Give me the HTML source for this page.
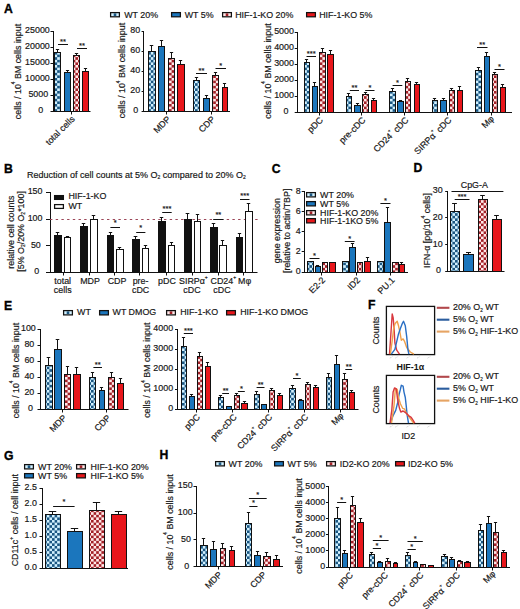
<!DOCTYPE html><html><head><meta charset="utf-8"><style>html,body{margin:0;padding:0;background:#fff;}svg{display:block;font-family:"Liberation Sans",sans-serif;}</style></head><body>
<svg width="520" height="609" viewBox="0 0 520 609">
<defs>
<pattern id="cb" width="5.2" height="5.2" patternUnits="userSpaceOnUse"><rect width="5.2" height="5.2" fill="#1a5682"/><rect width="2.6" height="2.6" fill="#d2f1ff"/><rect x="2.6" y="2.6" width="2.6" height="2.6" fill="#d2f1ff"/></pattern>
<pattern id="cr" width="5.2" height="5.2" patternUnits="userSpaceOnUse"><rect width="5.2" height="5.2" fill="#a32027"/><rect width="2.6" height="2.6" fill="#ffe9e9"/><rect x="2.6" y="2.6" width="2.6" height="2.6" fill="#ffe9e9"/></pattern>
</defs>
<text transform="translate(3.9 12.5) scale(0.94 1)" font-size="13" font-weight="bold" fill="#000" stroke="#000" stroke-width="0.35">A</text>
<rect x="110.6" y="12.6" width="8.8" height="4.2" fill="#d2f1ff"/>
<rect x="113.7" y="13.4" width="2.6" height="2.6" fill="#1a5682"/>
<rect x="110.6" y="12.6" width="8.8" height="4.2" fill="none" stroke="#111" stroke-width="1.25"/>
<text x="124.2" y="17.6" font-size="8.9" text-anchor="start" fill="#161616" stroke="#161616" stroke-width="0.18">WT 20%</text>
<rect x="171.6" y="12.6" width="8.8" height="4.2" fill="#1b76bd" stroke="#111" stroke-width="1.25"/>
<text x="184.7" y="17.6" font-size="8.9" text-anchor="start" fill="#161616" stroke="#161616" stroke-width="0.18">WT 5%</text>
<rect x="222.6" y="12.6" width="8.8" height="4.2" fill="#ffe9e9"/>
<rect x="225.7" y="13.4" width="2.6" height="2.6" fill="#a32027"/>
<rect x="222.6" y="12.6" width="8.8" height="4.2" fill="none" stroke="#111" stroke-width="1.25"/>
<text x="235.2" y="17.6" font-size="8.9" text-anchor="start" fill="#161616" stroke="#161616" stroke-width="0.18">HIF-1-KO 20%</text>
<rect x="306.6" y="12.6" width="8.8" height="4.2" fill="#e8161b" stroke="#111" stroke-width="1.25"/>
<text x="319.2" y="17.6" font-size="8.9" text-anchor="start" fill="#161616" stroke="#161616" stroke-width="0.18">HIF-1-KO 5%</text>
<line x1="53.5" y1="31" x2="53.5" y2="112" stroke="#111" stroke-width="1.0"/>
<line x1="50.5" y1="31.5" x2="53" y2="31.5" stroke="#111" stroke-width="1.0"/>
<text x="49.8" y="33.4" font-size="8.9" text-anchor="end" fill="#161616" stroke="#161616" stroke-width="0.18">25000</text>
<line x1="50.5" y1="47.5" x2="53" y2="47.5" stroke="#111" stroke-width="1.0"/>
<text x="49.8" y="49.4" font-size="8.9" text-anchor="end" fill="#161616" stroke="#161616" stroke-width="0.18">20000</text>
<line x1="50.5" y1="63.5" x2="53" y2="63.5" stroke="#111" stroke-width="1.0"/>
<text x="49.8" y="65.4" font-size="8.9" text-anchor="end" fill="#161616" stroke="#161616" stroke-width="0.18">15000</text>
<line x1="50.5" y1="79.5" x2="53" y2="79.5" stroke="#111" stroke-width="1.0"/>
<text x="49.8" y="81.4" font-size="8.9" text-anchor="end" fill="#161616" stroke="#161616" stroke-width="0.18">10000</text>
<line x1="50.5" y1="95.5" x2="53" y2="95.5" stroke="#111" stroke-width="1.0"/>
<text x="48.17" y="97.4" font-size="8.9" text-anchor="end" fill="#161616" stroke="#161616" stroke-width="0.18">5000</text>
<line x1="50.5" y1="111.5" x2="53" y2="111.5" stroke="#111" stroke-width="1.0"/>
<text x="43.27" y="113.4" font-size="8.9" text-anchor="end" fill="#161616" stroke="#161616" stroke-width="0.18">0</text>
<line x1="57.5" y1="52" x2="57.5" y2="49" stroke="#111" stroke-width="1.0"/>
<line x1="55.855" y1="49.5" x2="59.145" y2="49.5" stroke="#111" stroke-width="1.0"/>
<rect x="54.5" y="52.5" width="6" height="59" fill="url(#cb)" stroke="#111" stroke-width="1.0"/>
<line x1="67.5" y1="72" x2="67.5" y2="70" stroke="#111" stroke-width="1.0"/>
<line x1="65.9" y1="70.5" x2="69.1" y2="70.5" stroke="#111" stroke-width="1.0"/>
<rect x="64.5" y="72.5" width="6" height="39" fill="#1b76bd" stroke="#111" stroke-width="1.0"/>
<line x1="76.5" y1="55" x2="76.5" y2="53" stroke="#111" stroke-width="1.0"/>
<line x1="74.855" y1="53.5" x2="78.145" y2="53.5" stroke="#111" stroke-width="1.0"/>
<rect x="73.5" y="55.5" width="6" height="56" fill="url(#cr)" stroke="#111" stroke-width="1.0"/>
<line x1="85.5" y1="71" x2="85.5" y2="68" stroke="#111" stroke-width="1.0"/>
<line x1="83.9" y1="68.5" x2="87.1" y2="68.5" stroke="#111" stroke-width="1.0"/>
<rect x="82.5" y="71.5" width="6" height="40" fill="#e8161b" stroke="#111" stroke-width="1.0"/>
<line x1="53" y1="111.5" x2="90.5" y2="111.5" stroke="#111" stroke-width="1.0"/>
<line x1="71.5" y1="111" x2="71.5" y2="114.5" stroke="#111" stroke-width="1.0"/>
<line x1="58" y1="44.5" x2="68" y2="44.5" stroke="#111" stroke-width="1.0"/>
<text x="63.0" y="43.7" font-size="7.5" text-anchor="middle" fill="#161616" stroke="#161616" stroke-width="0.18">**</text>
<line x1="77" y1="48.5" x2="87" y2="48.5" stroke="#111" stroke-width="1.0"/>
<text x="82.0" y="47.7" font-size="7.5" text-anchor="middle" fill="#161616" stroke="#161616" stroke-width="0.18">**</text>
<text x="75.3" y="119.5" font-size="8.9" text-anchor="end" fill="#161616" stroke="#161616" stroke-width="0.18" transform="rotate(-45 75.3 119.5)">total cells</text>
<text x="21" y="71.5" font-size="8.9" text-anchor="middle" fill="#161616" stroke="#161616" stroke-width="0.18" transform="rotate(-90 21 71.5)">cells / 10<tspan font-size="4.6" dy="-5.8">4</tspan><tspan dy="5.8"> BM cells input</tspan></text>
<line x1="143.5" y1="31" x2="143.5" y2="112" stroke="#111" stroke-width="1.0"/>
<line x1="141.6" y1="31.5" x2="143.6" y2="31.5" stroke="#111" stroke-width="1.0"/>
<text x="140.1" y="33.4" font-size="8.9" text-anchor="end" fill="#161616" stroke="#161616" stroke-width="0.18">80</text>
<line x1="141.6" y1="51.5" x2="143.6" y2="51.5" stroke="#111" stroke-width="1.0"/>
<text x="140.1" y="53.4" font-size="8.9" text-anchor="end" fill="#161616" stroke="#161616" stroke-width="0.18">60</text>
<line x1="141.6" y1="71.5" x2="143.6" y2="71.5" stroke="#111" stroke-width="1.0"/>
<text x="140.1" y="73.4" font-size="8.9" text-anchor="end" fill="#161616" stroke="#161616" stroke-width="0.18">40</text>
<line x1="141.6" y1="91.5" x2="143.6" y2="91.5" stroke="#111" stroke-width="1.0"/>
<text x="140.1" y="93.4" font-size="8.9" text-anchor="end" fill="#161616" stroke="#161616" stroke-width="0.18">20</text>
<line x1="141.6" y1="111.5" x2="143.6" y2="111.5" stroke="#111" stroke-width="1.0"/>
<text x="138.22" y="113.4" font-size="8.9" text-anchor="end" fill="#161616" stroke="#161616" stroke-width="0.18">0</text>
<line x1="151.5" y1="51" x2="151.5" y2="45" stroke="#111" stroke-width="1.0"/>
<line x1="149.7375" y1="45.5" x2="153.2625" y2="45.5" stroke="#111" stroke-width="1.0"/>
<rect x="148.5" y="51.5" width="7" height="60" fill="url(#cb)" stroke="#111" stroke-width="1.0"/>
<line x1="161.5" y1="46" x2="161.5" y2="40" stroke="#111" stroke-width="1.0"/>
<line x1="159.855" y1="40.5" x2="163.145" y2="40.5" stroke="#111" stroke-width="1.0"/>
<rect x="158.5" y="46.5" width="6" height="65" fill="#1b76bd" stroke="#111" stroke-width="1.0"/>
<line x1="171.5" y1="58" x2="171.5" y2="52" stroke="#111" stroke-width="1.0"/>
<line x1="169.855" y1="52.5" x2="173.145" y2="52.5" stroke="#111" stroke-width="1.0"/>
<rect x="168.5" y="58.5" width="6" height="53" fill="url(#cr)" stroke="#111" stroke-width="1.0"/>
<line x1="180.5" y1="64" x2="180.5" y2="60" stroke="#111" stroke-width="1.0"/>
<line x1="178.855" y1="60.5" x2="182.145" y2="60.5" stroke="#111" stroke-width="1.0"/>
<rect x="177.5" y="64.5" width="7" height="47" fill="#e8161b" stroke="#111" stroke-width="1.0"/>
<line x1="196.5" y1="80" x2="196.5" y2="77" stroke="#111" stroke-width="1.0"/>
<line x1="194.855" y1="77.5" x2="198.145" y2="77.5" stroke="#111" stroke-width="1.0"/>
<rect x="193.5" y="80.5" width="6" height="31" fill="url(#cb)" stroke="#111" stroke-width="1.0"/>
<line x1="206.5" y1="98" x2="206.5" y2="95" stroke="#111" stroke-width="1.0"/>
<line x1="204.9" y1="95.5" x2="208.1" y2="95.5" stroke="#111" stroke-width="1.0"/>
<rect x="203.5" y="98.5" width="6" height="13" fill="#1b76bd" stroke="#111" stroke-width="1.0"/>
<line x1="215.5" y1="75" x2="215.5" y2="72" stroke="#111" stroke-width="1.0"/>
<line x1="213.9" y1="72.5" x2="217.1" y2="72.5" stroke="#111" stroke-width="1.0"/>
<rect x="212.5" y="75.5" width="6" height="36" fill="url(#cr)" stroke="#111" stroke-width="1.0"/>
<line x1="224.5" y1="87" x2="224.5" y2="83" stroke="#111" stroke-width="1.0"/>
<line x1="222.9" y1="83.5" x2="226.1" y2="83.5" stroke="#111" stroke-width="1.0"/>
<rect x="222.5" y="87.5" width="5" height="24" fill="#e8161b" stroke="#111" stroke-width="1.0"/>
<line x1="143" y1="111.5" x2="230" y2="111.5" stroke="#111" stroke-width="1.0"/>
<line x1="166.5" y1="111" x2="166.5" y2="114.5" stroke="#111" stroke-width="1.0"/>
<line x1="211.5" y1="111" x2="211.5" y2="114.5" stroke="#111" stroke-width="1.0"/>
<line x1="196" y1="73.5" x2="207" y2="73.5" stroke="#111" stroke-width="1.0"/>
<text x="201.5" y="72.7" font-size="7.5" text-anchor="middle" fill="#161616" stroke="#161616" stroke-width="0.18">**</text>
<line x1="215.5" y1="68.5" x2="226" y2="68.5" stroke="#111" stroke-width="1.0"/>
<text x="220.75" y="67.7" font-size="7.5" text-anchor="middle" fill="#161616" stroke="#161616" stroke-width="0.18">*</text>
<text x="171.1" y="119.7" font-size="8.9" text-anchor="end" fill="#161616" stroke="#161616" stroke-width="0.18" transform="rotate(-45 171.1 119.7)">MDP</text>
<text x="215.6" y="119.7" font-size="8.9" text-anchor="end" fill="#161616" stroke="#161616" stroke-width="0.18" transform="rotate(-45 215.6 119.7)">CDP</text>
<text x="125.4" y="70.5" font-size="8.9" text-anchor="middle" fill="#161616" stroke="#161616" stroke-width="0.18" transform="rotate(-90 125.4 70.5)">cells / 10<tspan font-size="4.6" dy="-5.8">4</tspan><tspan dy="5.8"> BM cells input</tspan></text>
<line x1="297.5" y1="32" x2="297.5" y2="113" stroke="#111" stroke-width="1.0"/>
<line x1="294.7" y1="32.5" x2="297.2" y2="32.5" stroke="#111" stroke-width="1.0"/>
<text x="293.9" y="34.4" font-size="8.9" text-anchor="end" fill="#161616" stroke="#161616" stroke-width="0.18">5000</text>
<line x1="294.7" y1="48.5" x2="297.2" y2="48.5" stroke="#111" stroke-width="1.0"/>
<text x="293.9" y="50.4" font-size="8.9" text-anchor="end" fill="#161616" stroke="#161616" stroke-width="0.18">4000</text>
<line x1="294.7" y1="64.5" x2="297.2" y2="64.5" stroke="#111" stroke-width="1.0"/>
<text x="293.9" y="66.4" font-size="8.9" text-anchor="end" fill="#161616" stroke="#161616" stroke-width="0.18">3000</text>
<line x1="294.7" y1="80.5" x2="297.2" y2="80.5" stroke="#111" stroke-width="1.0"/>
<text x="293.9" y="82.4" font-size="8.9" text-anchor="end" fill="#161616" stroke="#161616" stroke-width="0.18">2000</text>
<line x1="294.7" y1="96.5" x2="297.2" y2="96.5" stroke="#111" stroke-width="1.0"/>
<text x="293.9" y="98.4" font-size="8.9" text-anchor="end" fill="#161616" stroke="#161616" stroke-width="0.18">1000</text>
<line x1="294.7" y1="112.5" x2="297.2" y2="112.5" stroke="#111" stroke-width="1.0"/>
<text x="288.41" y="114.4" font-size="8.9" text-anchor="end" fill="#161616" stroke="#161616" stroke-width="0.18">0</text>
<line x1="306.5" y1="62" x2="306.5" y2="59" stroke="#111" stroke-width="1.0"/>
<line x1="304.9" y1="59.5" x2="308.1" y2="59.5" stroke="#111" stroke-width="1.0"/>
<rect x="304.5" y="62.5" width="5" height="50" fill="url(#cb)" stroke="#111" stroke-width="1.0"/>
<line x1="314.5" y1="86" x2="314.5" y2="82" stroke="#111" stroke-width="1.0"/>
<line x1="312.9" y1="82.5" x2="316.1" y2="82.5" stroke="#111" stroke-width="1.0"/>
<rect x="312.5" y="86.5" width="5" height="26" fill="#1b76bd" stroke="#111" stroke-width="1.0"/>
<line x1="322.5" y1="52" x2="322.5" y2="48" stroke="#111" stroke-width="1.0"/>
<line x1="320.9" y1="48.5" x2="324.1" y2="48.5" stroke="#111" stroke-width="1.0"/>
<rect x="319.5" y="52.5" width="6" height="60" fill="url(#cr)" stroke="#111" stroke-width="1.0"/>
<line x1="330.5" y1="54" x2="330.5" y2="50" stroke="#111" stroke-width="1.0"/>
<line x1="328.9" y1="50.5" x2="332.1" y2="50.5" stroke="#111" stroke-width="1.0"/>
<rect x="327.5" y="54.5" width="6" height="58" fill="#e8161b" stroke="#111" stroke-width="1.0"/>
<line x1="348.5" y1="96" x2="348.5" y2="93" stroke="#111" stroke-width="1.0"/>
<line x1="346.9" y1="93.5" x2="350.1" y2="93.5" stroke="#111" stroke-width="1.0"/>
<rect x="346.5" y="96.5" width="5" height="16" fill="url(#cb)" stroke="#111" stroke-width="1.0"/>
<line x1="357.5" y1="105" x2="357.5" y2="103" stroke="#111" stroke-width="1.0"/>
<line x1="355.9" y1="103.5" x2="359.1" y2="103.5" stroke="#111" stroke-width="1.0"/>
<rect x="354.5" y="105.5" width="6" height="7" fill="#1b76bd" stroke="#111" stroke-width="1.0"/>
<line x1="365.5" y1="94" x2="365.5" y2="92" stroke="#111" stroke-width="1.0"/>
<line x1="363.9" y1="92.5" x2="367.1" y2="92.5" stroke="#111" stroke-width="1.0"/>
<rect x="362.5" y="94.5" width="6" height="18" fill="url(#cr)" stroke="#111" stroke-width="1.0"/>
<line x1="373.5" y1="100" x2="373.5" y2="98" stroke="#111" stroke-width="1.0"/>
<line x1="371.9" y1="98.5" x2="375.1" y2="98.5" stroke="#111" stroke-width="1.0"/>
<rect x="371.5" y="100.5" width="5" height="12" fill="#e8161b" stroke="#111" stroke-width="1.0"/>
<line x1="392.5" y1="91" x2="392.5" y2="88" stroke="#111" stroke-width="1.0"/>
<line x1="390.9" y1="88.5" x2="394.1" y2="88.5" stroke="#111" stroke-width="1.0"/>
<rect x="389.5" y="91.5" width="6" height="21" fill="url(#cb)" stroke="#111" stroke-width="1.0"/>
<line x1="400.5" y1="101" x2="400.5" y2="100" stroke="#111" stroke-width="1.0"/>
<line x1="398.9" y1="100.5" x2="402.1" y2="100.5" stroke="#111" stroke-width="1.0"/>
<rect x="397.5" y="101.5" width="6" height="11" fill="#1b76bd" stroke="#111" stroke-width="1.0"/>
<line x1="407.5" y1="81" x2="407.5" y2="78" stroke="#111" stroke-width="1.0"/>
<line x1="405.9" y1="78.5" x2="409.1" y2="78.5" stroke="#111" stroke-width="1.0"/>
<rect x="405.5" y="81.5" width="5" height="31" fill="url(#cr)" stroke="#111" stroke-width="1.0"/>
<line x1="416.5" y1="84" x2="416.5" y2="82" stroke="#111" stroke-width="1.0"/>
<line x1="414.9" y1="82.5" x2="418.1" y2="82.5" stroke="#111" stroke-width="1.0"/>
<rect x="414.5" y="84.5" width="5" height="28" fill="#e8161b" stroke="#111" stroke-width="1.0"/>
<line x1="434.5" y1="100" x2="434.5" y2="98" stroke="#111" stroke-width="1.0"/>
<line x1="432.9" y1="98.5" x2="436.1" y2="98.5" stroke="#111" stroke-width="1.0"/>
<rect x="432.5" y="100.5" width="5" height="12" fill="url(#cb)" stroke="#111" stroke-width="1.0"/>
<line x1="443.5" y1="100" x2="443.5" y2="98" stroke="#111" stroke-width="1.0"/>
<line x1="441.9" y1="98.5" x2="445.1" y2="98.5" stroke="#111" stroke-width="1.0"/>
<rect x="440.5" y="100.5" width="6" height="12" fill="#1b76bd" stroke="#111" stroke-width="1.0"/>
<line x1="451.5" y1="90" x2="451.5" y2="88" stroke="#111" stroke-width="1.0"/>
<line x1="449.9" y1="88.5" x2="453.1" y2="88.5" stroke="#111" stroke-width="1.0"/>
<rect x="449.5" y="90.5" width="5" height="22" fill="url(#cr)" stroke="#111" stroke-width="1.0"/>
<line x1="459.5" y1="90" x2="459.5" y2="86" stroke="#111" stroke-width="1.0"/>
<line x1="457.9" y1="86.5" x2="461.1" y2="86.5" stroke="#111" stroke-width="1.0"/>
<rect x="457.5" y="90.5" width="5" height="22" fill="#e8161b" stroke="#111" stroke-width="1.0"/>
<line x1="478.5" y1="70" x2="478.5" y2="67" stroke="#111" stroke-width="1.0"/>
<line x1="476.9" y1="67.5" x2="480.1" y2="67.5" stroke="#111" stroke-width="1.0"/>
<rect x="475.5" y="70.5" width="6" height="42" fill="url(#cb)" stroke="#111" stroke-width="1.0"/>
<line x1="486.5" y1="56" x2="486.5" y2="52" stroke="#111" stroke-width="1.0"/>
<line x1="484.9" y1="52.5" x2="488.1" y2="52.5" stroke="#111" stroke-width="1.0"/>
<rect x="484.5" y="56.5" width="5" height="56" fill="#1b76bd" stroke="#111" stroke-width="1.0"/>
<line x1="494.5" y1="74" x2="494.5" y2="72" stroke="#111" stroke-width="1.0"/>
<line x1="492.9" y1="72.5" x2="496.1" y2="72.5" stroke="#111" stroke-width="1.0"/>
<rect x="492.5" y="74.5" width="5" height="38" fill="url(#cr)" stroke="#111" stroke-width="1.0"/>
<line x1="502.5" y1="87" x2="502.5" y2="84" stroke="#111" stroke-width="1.0"/>
<line x1="500.9" y1="84.5" x2="504.1" y2="84.5" stroke="#111" stroke-width="1.0"/>
<rect x="500.5" y="87.5" width="5" height="25" fill="#e8161b" stroke="#111" stroke-width="1.0"/>
<line x1="297" y1="112.5" x2="512" y2="112.5" stroke="#111" stroke-width="1.0"/>
<line x1="319.5" y1="112" x2="319.5" y2="115.5" stroke="#111" stroke-width="1.0"/>
<line x1="361.5" y1="112" x2="361.5" y2="115.5" stroke="#111" stroke-width="1.0"/>
<line x1="404.5" y1="112" x2="404.5" y2="115.5" stroke="#111" stroke-width="1.0"/>
<line x1="447.5" y1="112" x2="447.5" y2="115.5" stroke="#111" stroke-width="1.0"/>
<line x1="491.5" y1="112" x2="491.5" y2="115.5" stroke="#111" stroke-width="1.0"/>
<line x1="306.5" y1="56.5" x2="316" y2="56.5" stroke="#111" stroke-width="1.0"/>
<text x="311.25" y="55.7" font-size="7.5" text-anchor="middle" fill="#161616" stroke="#161616" stroke-width="0.18">***</text>
<line x1="349.8" y1="90.5" x2="359" y2="90.5" stroke="#111" stroke-width="1.0"/>
<text x="354.4" y="89.7" font-size="7.5" text-anchor="middle" fill="#161616" stroke="#161616" stroke-width="0.18">**</text>
<line x1="365.2" y1="90.5" x2="374.5" y2="90.5" stroke="#111" stroke-width="1.0"/>
<text x="369.85" y="89.7" font-size="7.5" text-anchor="middle" fill="#161616" stroke="#161616" stroke-width="0.18">*</text>
<line x1="392.6" y1="85.5" x2="402.3" y2="85.5" stroke="#111" stroke-width="1.0"/>
<text x="397.45000000000005" y="84.7" font-size="7.5" text-anchor="middle" fill="#161616" stroke="#161616" stroke-width="0.18">*</text>
<line x1="477" y1="47.5" x2="487.5" y2="47.5" stroke="#111" stroke-width="1.0"/>
<text x="482.25" y="46.7" font-size="7.5" text-anchor="middle" fill="#161616" stroke="#161616" stroke-width="0.18">**</text>
<line x1="494.5" y1="69.5" x2="504.5" y2="69.5" stroke="#111" stroke-width="1.0"/>
<text x="499.5" y="68.7" font-size="7.5" text-anchor="middle" fill="#161616" stroke="#161616" stroke-width="0.18">*</text>
<text x="323.6" y="120.7" font-size="8.9" text-anchor="end" fill="#161616" stroke="#161616" stroke-width="0.18" transform="rotate(-45 323.6 120.7)">pDC</text>
<text x="366.1" y="120.7" font-size="8.9" text-anchor="end" fill="#161616" stroke="#161616" stroke-width="0.18" transform="rotate(-45 366.1 120.7)">pre-cDC</text>
<text x="409.1" y="120.7" font-size="8.9" text-anchor="end" fill="#161616" stroke="#161616" stroke-width="0.18" transform="rotate(-45 409.1 120.7)">CD24<tspan font-size="5" dy="-5.4">+</tspan><tspan dy="5.4"> cDC</tspan></text>
<text x="452.1" y="120.7" font-size="8.9" text-anchor="end" fill="#161616" stroke="#161616" stroke-width="0.18" transform="rotate(-45 452.1 120.7)">SIRP&#945;<tspan font-size="5" dy="-5.4">+</tspan><tspan dy="5.4"> cDC</tspan></text>
<text x="494.6" y="119.5" font-size="8.9" text-anchor="end" fill="#161616" stroke="#161616" stroke-width="0.18" transform="rotate(-45 494.6 119.5)">M&#966;</text>
<text x="271" y="71" font-size="8.9" text-anchor="middle" fill="#161616" stroke="#161616" stroke-width="0.18" transform="rotate(-90 271 71)">cells / 10<tspan font-size="4.6" dy="-5.8">4</tspan><tspan dy="5.8"> BM cells input</tspan></text>
<text transform="translate(3.9 172.60000000000002) scale(0.94 1)" font-size="13" font-weight="bold" fill="#000" stroke="#000" stroke-width="0.35">B</text>
<text x="27" y="177.9" font-size="9.0" text-anchor="start" fill="#161616" stroke="#161616" stroke-width="0.18">Reduction of cell counts at 5% O<tspan font-size="5" dy="1.5">2</tspan><tspan dy="-1.5"> compared to 20% O</tspan><tspan font-size="5" dy="1.5">2</tspan></text>
<line x1="50.5" y1="192" x2="50.5" y2="273" stroke="#111" stroke-width="1.0"/>
<line x1="46" y1="192.5" x2="50" y2="192.5" stroke="#111" stroke-width="1.0"/>
<text x="42.5" y="194.4" font-size="8.9" text-anchor="end" fill="#161616" stroke="#161616" stroke-width="0.18">150</text>
<line x1="46" y1="219.5" x2="50" y2="219.5" stroke="#111" stroke-width="1.0"/>
<text x="42.5" y="221.4" font-size="8.9" text-anchor="end" fill="#161616" stroke="#161616" stroke-width="0.18">100</text>
<line x1="46" y1="245.5" x2="50" y2="245.5" stroke="#111" stroke-width="1.0"/>
<text x="40.82" y="248.0" font-size="8.9" text-anchor="end" fill="#161616" stroke="#161616" stroke-width="0.18">50</text>
<line x1="46" y1="272.5" x2="50" y2="272.5" stroke="#111" stroke-width="1.0"/>
<text x="39.13" y="274.4" font-size="8.9" text-anchor="end" fill="#161616" stroke="#161616" stroke-width="0.18">0</text>
<line x1="50" y1="219.5" x2="258" y2="219.5" stroke="#9c4658" stroke-width="1.2" stroke-dasharray="2.4 3.3"/>
<rect x="54.6" y="195.6" width="8.8" height="3.8" fill="#111" stroke="#111" stroke-width="1.25"/>
<text x="68.4" y="199.4" font-size="8.9" text-anchor="start" fill="#161616" stroke="#161616" stroke-width="0.18">HIF-1-KO</text>
<rect x="54.6" y="204.6" width="8.8" height="3.8" fill="#fff" stroke="#111" stroke-width="1.25"/>
<text x="68.4" y="208.6" font-size="8.9" text-anchor="start" fill="#161616" stroke="#161616" stroke-width="0.18">WT</text>
<line x1="57.5" y1="235" x2="57.5" y2="232" stroke="#111" stroke-width="1.0"/>
<line x1="55.7375" y1="232.5" x2="59.2625" y2="232.5" stroke="#111" stroke-width="1.0"/>
<rect x="54.5" y="235.5" width="7" height="37" fill="#111" stroke="#111" stroke-width="1.0"/>
<line x1="67.5" y1="237" x2="67.5" y2="236" stroke="#111" stroke-width="1.0"/>
<line x1="65.8785" y1="236.5" x2="69.1215" y2="236.5" stroke="#111" stroke-width="1.0"/>
<rect x="64.5" y="237.5" width="6" height="35" fill="#fff" stroke="#111" stroke-width="1.0"/>
<line x1="83.5" y1="226" x2="83.5" y2="223" stroke="#111" stroke-width="1.0"/>
<line x1="81.761" y1="223.5" x2="85.239" y2="223.5" stroke="#111" stroke-width="1.0"/>
<rect x="80.5" y="226.5" width="7" height="46" fill="#111" stroke="#111" stroke-width="1.0"/>
<line x1="93.5" y1="219" x2="93.5" y2="215" stroke="#111" stroke-width="1.0"/>
<line x1="91.7375" y1="215.5" x2="95.2625" y2="215.5" stroke="#111" stroke-width="1.0"/>
<rect x="90.5" y="219.5" width="7" height="53" fill="#fff" stroke="#111" stroke-width="1.0"/>
<line x1="110.5" y1="235" x2="110.5" y2="232" stroke="#111" stroke-width="1.0"/>
<line x1="108.83149999999999" y1="232.5" x2="112.16850000000001" y2="232.5" stroke="#111" stroke-width="1.0"/>
<rect x="107.5" y="235.5" width="6" height="37" fill="#111" stroke="#111" stroke-width="1.0"/>
<line x1="119.5" y1="249" x2="119.5" y2="247" stroke="#111" stroke-width="1.0"/>
<line x1="117.80799999999999" y1="247.5" x2="121.19200000000001" y2="247.5" stroke="#111" stroke-width="1.0"/>
<rect x="116.5" y="249.5" width="7" height="23" fill="#fff" stroke="#111" stroke-width="1.0"/>
<line x1="135.5" y1="239" x2="135.5" y2="236" stroke="#111" stroke-width="1.0"/>
<line x1="133.667" y1="236.5" x2="137.333" y2="236.5" stroke="#111" stroke-width="1.0"/>
<rect x="132.5" y="239.5" width="7" height="33" fill="#111" stroke="#111" stroke-width="1.0"/>
<line x1="145.5" y1="248" x2="145.5" y2="245" stroke="#111" stroke-width="1.0"/>
<line x1="143.808" y1="245.5" x2="147.192" y2="245.5" stroke="#111" stroke-width="1.0"/>
<rect x="142.5" y="248.5" width="6" height="24" fill="#fff" stroke="#111" stroke-width="1.0"/>
<line x1="161.5" y1="221" x2="161.5" y2="217" stroke="#111" stroke-width="1.0"/>
<line x1="159.7375" y1="217.5" x2="163.2625" y2="217.5" stroke="#111" stroke-width="1.0"/>
<rect x="158.5" y="221.5" width="7" height="51" fill="#111" stroke="#111" stroke-width="1.0"/>
<line x1="171.5" y1="245" x2="171.5" y2="242" stroke="#111" stroke-width="1.0"/>
<line x1="169.8785" y1="242.5" x2="173.1215" y2="242.5" stroke="#111" stroke-width="1.0"/>
<rect x="168.5" y="245.5" width="6" height="27" fill="#fff" stroke="#111" stroke-width="1.0"/>
<line x1="187.5" y1="219" x2="187.5" y2="213" stroke="#111" stroke-width="1.0"/>
<line x1="185.667" y1="213.5" x2="189.333" y2="213.5" stroke="#111" stroke-width="1.0"/>
<rect x="184.5" y="219.5" width="7" height="53" fill="#111" stroke="#111" stroke-width="1.0"/>
<line x1="197.5" y1="221" x2="197.5" y2="214" stroke="#111" stroke-width="1.0"/>
<line x1="195.808" y1="214.5" x2="199.192" y2="214.5" stroke="#111" stroke-width="1.0"/>
<rect x="194.5" y="221.5" width="6" height="51" fill="#fff" stroke="#111" stroke-width="1.0"/>
<line x1="213.5" y1="227" x2="213.5" y2="223" stroke="#111" stroke-width="1.0"/>
<line x1="211.7375" y1="223.5" x2="215.2625" y2="223.5" stroke="#111" stroke-width="1.0"/>
<rect x="210.5" y="227.5" width="7" height="45" fill="#111" stroke="#111" stroke-width="1.0"/>
<line x1="222.5" y1="245" x2="222.5" y2="240" stroke="#111" stroke-width="1.0"/>
<line x1="220.8315" y1="240.5" x2="224.1685" y2="240.5" stroke="#111" stroke-width="1.0"/>
<rect x="219.5" y="245.5" width="7" height="27" fill="#fff" stroke="#111" stroke-width="1.0"/>
<line x1="239.5" y1="237" x2="239.5" y2="233" stroke="#111" stroke-width="1.0"/>
<line x1="237.8315" y1="233.5" x2="241.1685" y2="233.5" stroke="#111" stroke-width="1.0"/>
<rect x="236.5" y="237.5" width="6" height="35" fill="#111" stroke="#111" stroke-width="1.0"/>
<line x1="248.5" y1="211" x2="248.5" y2="203" stroke="#111" stroke-width="1.0"/>
<line x1="246.761" y1="203.5" x2="250.239" y2="203.5" stroke="#111" stroke-width="1.0"/>
<rect x="245.5" y="211.5" width="7" height="61" fill="#fff" stroke="#111" stroke-width="1.0"/>
<line x1="50" y1="272.5" x2="257.5" y2="272.5" stroke="#111" stroke-width="1.0"/>
<line x1="63.5" y1="272" x2="63.5" y2="275.5" stroke="#111" stroke-width="1.0"/>
<line x1="89.5" y1="272" x2="89.5" y2="275.5" stroke="#111" stroke-width="1.0"/>
<line x1="114.5" y1="272" x2="114.5" y2="275.5" stroke="#111" stroke-width="1.0"/>
<line x1="139.5" y1="272" x2="139.5" y2="275.5" stroke="#111" stroke-width="1.0"/>
<line x1="166.5" y1="272" x2="166.5" y2="275.5" stroke="#111" stroke-width="1.0"/>
<line x1="192.5" y1="272" x2="192.5" y2="275.5" stroke="#111" stroke-width="1.0"/>
<line x1="218.5" y1="272" x2="218.5" y2="275.5" stroke="#111" stroke-width="1.0"/>
<line x1="243.5" y1="272" x2="243.5" y2="275.5" stroke="#111" stroke-width="1.0"/>
<line x1="110.4" y1="227.5" x2="120" y2="227.5" stroke="#111" stroke-width="1.0"/>
<text x="115.2" y="225.29999999999998" font-size="7.5" text-anchor="middle" fill="#161616" stroke="#161616" stroke-width="0.18">*</text>
<line x1="136.2" y1="232.5" x2="145.4" y2="232.5" stroke="#111" stroke-width="1.0"/>
<text x="140.8" y="230.1" font-size="7.5" text-anchor="middle" fill="#161616" stroke="#161616" stroke-width="0.18">*</text>
<line x1="162.2" y1="212.5" x2="171.7" y2="212.5" stroke="#111" stroke-width="1.0"/>
<text x="166.95" y="210.7" font-size="7.5" text-anchor="middle" fill="#161616" stroke="#161616" stroke-width="0.18">***</text>
<line x1="213.2" y1="219.5" x2="223.5" y2="219.5" stroke="#111" stroke-width="1.0"/>
<text x="218.35" y="217.1" font-size="7.5" text-anchor="middle" fill="#161616" stroke="#161616" stroke-width="0.18">**</text>
<line x1="240" y1="199.5" x2="249.5" y2="199.5" stroke="#111" stroke-width="1.0"/>
<text x="244.75" y="197.5" font-size="7.5" text-anchor="middle" fill="#161616" stroke="#161616" stroke-width="0.18">***</text>
<text x="62.7" y="283.9" font-size="8.9" text-anchor="middle" fill="#161616" stroke="#161616" stroke-width="0.18">total</text>
<text x="62.7" y="293" font-size="8.9" text-anchor="middle" fill="#161616" stroke="#161616" stroke-width="0.18">cells</text>
<text x="90" y="283.9" font-size="8.9" text-anchor="middle" fill="#161616" stroke="#161616" stroke-width="0.18">MDP</text>
<text x="117" y="283.9" font-size="8.9" text-anchor="middle" fill="#161616" stroke="#161616" stroke-width="0.18">CDP</text>
<text x="140.6" y="283.9" font-size="8.9" text-anchor="middle" fill="#161616" stroke="#161616" stroke-width="0.18">pre-</text>
<text x="140.6" y="293" font-size="8.9" text-anchor="middle" fill="#161616" stroke="#161616" stroke-width="0.18">cDC</text>
<text x="167" y="283.9" font-size="8.9" text-anchor="middle" fill="#161616" stroke="#161616" stroke-width="0.18">pDC</text>
<text x="193.4" y="283.9" font-size="8.9" text-anchor="middle" fill="#161616" stroke="#161616" stroke-width="0.18">SIRP&#945;<tspan font-size="5" dy="-5.4">+</tspan><tspan dy="5.4"></tspan></text>
<text x="223.3" y="283.9" font-size="8.9" text-anchor="middle" fill="#161616" stroke="#161616" stroke-width="0.18">CD24<tspan font-size="5" dy="-5.4">+</tspan><tspan dy="5.4"></tspan></text>
<text x="244.7" y="283.9" font-size="8.9" text-anchor="middle" fill="#161616" stroke="#161616" stroke-width="0.18">M&#966;</text>
<text x="192" y="293" font-size="8.9" text-anchor="middle" fill="#161616" stroke="#161616" stroke-width="0.18">cDC</text>
<text x="222" y="293" font-size="8.9" text-anchor="middle" fill="#161616" stroke="#161616" stroke-width="0.18">cDC</text>
<text x="13.9" y="232.2" font-size="8.9" text-anchor="middle" fill="#161616" stroke="#161616" stroke-width="0.18" transform="rotate(-90 13.9 232.2)">relative cell counts</text>
<text x="23.9" y="231.4" font-size="8.9" text-anchor="middle" fill="#161616" stroke="#161616" stroke-width="0.18" transform="rotate(-90 23.9 231.4)">[5% O<tspan font-size="5" dy="1.5">2</tspan><tspan dy="-1.5">/20% O</tspan><tspan font-size="5" dy="1.5">2</tspan><tspan dy="-1.5">*100]</tspan></text>
<text transform="translate(271.8 172.5) scale(0.94 1)" font-size="13" font-weight="bold" fill="#000" stroke="#000" stroke-width="0.35">C</text>
<line x1="304.5" y1="191" x2="304.5" y2="273" stroke="#111" stroke-width="1.0"/>
<line x1="301.7" y1="191.5" x2="304.2" y2="191.5" stroke="#111" stroke-width="1.0"/>
<text x="300.8" y="193.9" font-size="8.9" text-anchor="end" fill="#161616" stroke="#161616" stroke-width="0.18">8</text>
<line x1="301.7" y1="211.5" x2="304.2" y2="211.5" stroke="#111" stroke-width="1.0"/>
<text x="300.8" y="213.9" font-size="8.9" text-anchor="end" fill="#161616" stroke="#161616" stroke-width="0.18">6</text>
<line x1="301.7" y1="231.5" x2="304.2" y2="231.5" stroke="#111" stroke-width="1.0"/>
<text x="300.8" y="234.0" font-size="8.9" text-anchor="end" fill="#161616" stroke="#161616" stroke-width="0.18">4</text>
<line x1="301.7" y1="251.5" x2="304.2" y2="251.5" stroke="#111" stroke-width="1.0"/>
<text x="300.8" y="254.1" font-size="8.9" text-anchor="end" fill="#161616" stroke="#161616" stroke-width="0.18">2</text>
<line x1="301.7" y1="272.5" x2="304.2" y2="272.5" stroke="#111" stroke-width="1.0"/>
<text x="300.8" y="274.4" font-size="8.9" text-anchor="end" fill="#161616" stroke="#161616" stroke-width="0.18">0</text>
<rect x="306.6" y="192.6" width="8.8" height="4.3" fill="#d2f1ff"/>
<rect x="309.7" y="193.4" width="2.6" height="2.6" fill="#1a5682"/>
<rect x="306.6" y="192.6" width="8.8" height="4.3" fill="none" stroke="#111" stroke-width="1.25"/>
<text x="320.1" y="197.7" font-size="8.9" text-anchor="start" fill="#161616" stroke="#161616" stroke-width="0.18">WT 20%</text>
<rect x="306.6" y="201.6" width="8.8" height="4.3" fill="#1b76bd" stroke="#111" stroke-width="1.25"/>
<text x="320.1" y="206.7" font-size="8.9" text-anchor="start" fill="#161616" stroke="#161616" stroke-width="0.18">WT 5%</text>
<rect x="306.6" y="210.6" width="8.8" height="4.3" fill="#ffe9e9"/>
<rect x="309.7" y="211.4" width="2.6" height="2.6" fill="#a32027"/>
<rect x="306.6" y="210.6" width="8.8" height="4.3" fill="none" stroke="#111" stroke-width="1.25"/>
<text x="320.1" y="215.7" font-size="8.9" text-anchor="start" fill="#161616" stroke="#161616" stroke-width="0.18">HIF-1-KO 20%</text>
<rect x="306.6" y="218.6" width="8.8" height="4.3" fill="#e8161b" stroke="#111" stroke-width="1.25"/>
<text x="320.1" y="223.7" font-size="8.9" text-anchor="start" fill="#161616" stroke="#161616" stroke-width="0.18">HIF-1-1KO 5%</text>
<rect x="307.5" y="261.5" width="6" height="11" fill="url(#cb)" stroke="#111" stroke-width="1.0"/>
<line x1="317.5" y1="266" x2="317.5" y2="265" stroke="#111" stroke-width="1.0"/>
<line x1="315.9" y1="265.5" x2="319.1" y2="265.5" stroke="#111" stroke-width="1.0"/>
<rect x="315.5" y="266.5" width="5" height="6" fill="#1b76bd" stroke="#111" stroke-width="1.0"/>
<rect x="322.5" y="262.5" width="5" height="10" fill="url(#cr)" stroke="#111" stroke-width="1.0"/>
<rect x="329.5" y="262.5" width="6" height="10" fill="#e8161b" stroke="#111" stroke-width="1.0"/>
<rect x="342.5" y="261.5" width="6" height="11" fill="url(#cb)" stroke="#111" stroke-width="1.0"/>
<line x1="352.5" y1="247" x2="352.5" y2="243" stroke="#111" stroke-width="1.0"/>
<line x1="350.9" y1="243.5" x2="354.1" y2="243.5" stroke="#111" stroke-width="1.0"/>
<rect x="349.5" y="247.5" width="6" height="25" fill="#1b76bd" stroke="#111" stroke-width="1.0"/>
<rect x="357.5" y="262.5" width="5" height="10" fill="url(#cr)" stroke="#111" stroke-width="1.0"/>
<line x1="367.5" y1="261" x2="367.5" y2="257" stroke="#111" stroke-width="1.0"/>
<line x1="365.9" y1="257.5" x2="369.1" y2="257.5" stroke="#111" stroke-width="1.0"/>
<rect x="364.5" y="261.5" width="6" height="11" fill="#e8161b" stroke="#111" stroke-width="1.0"/>
<rect x="377.5" y="261.5" width="6" height="11" fill="url(#cb)" stroke="#111" stroke-width="1.0"/>
<line x1="387.5" y1="222" x2="387.5" y2="207" stroke="#111" stroke-width="1.0"/>
<line x1="385.9" y1="207.5" x2="389.1" y2="207.5" stroke="#111" stroke-width="1.0"/>
<rect x="384.5" y="222.5" width="6" height="50" fill="#1b76bd" stroke="#111" stroke-width="1.0"/>
<rect x="392.5" y="262.5" width="6" height="10" fill="url(#cr)" stroke="#111" stroke-width="1.0"/>
<line x1="401.5" y1="264" x2="401.5" y2="262" stroke="#111" stroke-width="1.0"/>
<line x1="399.9" y1="262.5" x2="403.1" y2="262.5" stroke="#111" stroke-width="1.0"/>
<rect x="399.5" y="264.5" width="5" height="8" fill="#e8161b" stroke="#111" stroke-width="1.0"/>
<line x1="304" y1="272.5" x2="408" y2="272.5" stroke="#111" stroke-width="1.0"/>
<line x1="321.5" y1="272" x2="321.5" y2="275.5" stroke="#111" stroke-width="1.0"/>
<line x1="356.5" y1="272" x2="356.5" y2="275.5" stroke="#111" stroke-width="1.0"/>
<line x1="390.5" y1="272" x2="390.5" y2="275.5" stroke="#111" stroke-width="1.0"/>
<line x1="309.5" y1="258.5" x2="319.5" y2="258.5" stroke="#111" stroke-width="1.0"/>
<text x="314.5" y="257.7" font-size="7.5" text-anchor="middle" fill="#161616" stroke="#161616" stroke-width="0.18">*</text>
<line x1="344.8" y1="241.5" x2="354.6" y2="241.5" stroke="#111" stroke-width="1.0"/>
<text x="349.70000000000005" y="240.7" font-size="7.5" text-anchor="middle" fill="#161616" stroke="#161616" stroke-width="0.18">*</text>
<line x1="380.4" y1="203.5" x2="390.5" y2="203.5" stroke="#111" stroke-width="1.0"/>
<text x="385.45" y="202.7" font-size="7.5" text-anchor="middle" fill="#161616" stroke="#161616" stroke-width="0.18">*</text>
<text x="325.8" y="280.7" font-size="8.9" text-anchor="end" fill="#161616" stroke="#161616" stroke-width="0.18" transform="rotate(-45 325.8 280.7)">E2-2</text>
<text x="360.7" y="280.7" font-size="8.9" text-anchor="end" fill="#161616" stroke="#161616" stroke-width="0.18" transform="rotate(-45 360.7 280.7)">ID2</text>
<text x="395.3" y="280.7" font-size="8.9" text-anchor="end" fill="#161616" stroke="#161616" stroke-width="0.18" transform="rotate(-45 395.3 280.7)">PU.1</text>
<text x="280.5" y="230.6" font-size="8.9" text-anchor="middle" fill="#161616" stroke="#161616" stroke-width="0.18" transform="rotate(-90 280.5 230.6)">gene expression</text>
<text x="290.5" y="230.8" font-size="8.9" text-anchor="middle" fill="#161616" stroke="#161616" stroke-width="0.18" transform="rotate(-90 290.5 230.8)">[relative to actin/TBP]</text>
<text transform="translate(413.5 172.4) scale(0.94 1)" font-size="13" font-weight="bold" fill="#000" stroke="#000" stroke-width="0.35">D</text>
<line x1="447.5" y1="191" x2="447.5" y2="272" stroke="#111" stroke-width="1.0"/>
<line x1="445.2" y1="191.5" x2="447.2" y2="191.5" stroke="#111" stroke-width="1.0"/>
<text x="442.6" y="193.4" font-size="8.9" text-anchor="end" fill="#161616" stroke="#161616" stroke-width="0.18">30</text>
<line x1="445.2" y1="217.5" x2="447.2" y2="217.5" stroke="#111" stroke-width="1.0"/>
<text x="442.6" y="219.9" font-size="8.9" text-anchor="end" fill="#161616" stroke="#161616" stroke-width="0.18">20</text>
<line x1="445.2" y1="244.5" x2="447.2" y2="244.5" stroke="#111" stroke-width="1.0"/>
<text x="442.6" y="246.6" font-size="8.9" text-anchor="end" fill="#161616" stroke="#161616" stroke-width="0.18">10</text>
<line x1="445.2" y1="271.5" x2="447.2" y2="271.5" stroke="#111" stroke-width="1.0"/>
<text x="440.92" y="273.4" font-size="8.9" text-anchor="end" fill="#161616" stroke="#161616" stroke-width="0.18">0</text>
<line x1="454.5" y1="211" x2="454.5" y2="203" stroke="#111" stroke-width="1.0"/>
<line x1="452.103" y1="203.5" x2="456.897" y2="203.5" stroke="#111" stroke-width="1.0"/>
<rect x="450.5" y="211.5" width="9" height="60" fill="url(#cb)" stroke="#111" stroke-width="1.0"/>
<line x1="468.5" y1="254" x2="468.5" y2="252" stroke="#111" stroke-width="1.0"/>
<line x1="466.009" y1="252.5" x2="470.991" y2="252.5" stroke="#111" stroke-width="1.0"/>
<rect x="463.5" y="254.5" width="10" height="17" fill="#1b76bd" stroke="#111" stroke-width="1.0"/>
<line x1="482.5" y1="199" x2="482.5" y2="195" stroke="#111" stroke-width="1.0"/>
<line x1="480.1735" y1="195.5" x2="484.8265" y2="195.5" stroke="#111" stroke-width="1.0"/>
<rect x="478.5" y="199.5" width="9" height="72" fill="url(#cr)" stroke="#111" stroke-width="1.0"/>
<line x1="496.5" y1="219" x2="496.5" y2="215" stroke="#111" stroke-width="1.0"/>
<line x1="494.1265" y1="215.5" x2="498.8735" y2="215.5" stroke="#111" stroke-width="1.0"/>
<rect x="492.5" y="219.5" width="9" height="52" fill="#e8161b" stroke="#111" stroke-width="1.0"/>
<line x1="447" y1="271.5" x2="504.5" y2="271.5" stroke="#111" stroke-width="1.0"/>
<text x="474.3" y="187.7" font-size="8.9" text-anchor="middle" fill="#161616" stroke="#161616" stroke-width="0.18">CpG-A</text>
<line x1="451.5" y1="191.5" x2="503.4" y2="191.5" stroke="#111" stroke-width="1.0"/>
<line x1="454.7" y1="199.5" x2="469.5" y2="199.5" stroke="#111" stroke-width="1.0"/>
<text x="462.1" y="198.7" font-size="7.5" text-anchor="middle" fill="#161616" stroke="#161616" stroke-width="0.18">***</text>
<text x="430.2" y="230.5" font-size="8.9" text-anchor="middle" fill="#161616" stroke="#161616" stroke-width="0.18" transform="rotate(-90 430.2 230.5)">IFN-&#945; [pg/10<tspan font-size="5" dy="-5.6">4</tspan><tspan dy="5.6"> cells]</tspan></text>
<text transform="translate(3.9 309.6) scale(0.94 1)" font-size="13" font-weight="bold" fill="#000" stroke="#000" stroke-width="0.35">E</text>
<rect x="63.6" y="310.6" width="8.8" height="4.3" fill="#d2f1ff"/>
<rect x="66.7" y="311.4" width="2.6" height="2.6" fill="#1a5682"/>
<rect x="63.6" y="310.6" width="8.8" height="4.3" fill="none" stroke="#111" stroke-width="1.25"/>
<text x="77.0" y="315.3" font-size="8.9" text-anchor="start" fill="#161616" stroke="#161616" stroke-width="0.18">WT</text>
<rect x="99.6" y="310.6" width="8.8" height="4.3" fill="#1b76bd" stroke="#111" stroke-width="1.25"/>
<text x="112.5" y="315.3" font-size="8.9" text-anchor="start" fill="#161616" stroke="#161616" stroke-width="0.18">WT DMOG</text>
<rect x="166.6" y="310.6" width="8.8" height="4.3" fill="#ffe9e9"/>
<rect x="169.7" y="311.4" width="2.6" height="2.6" fill="#a32027"/>
<rect x="166.6" y="310.6" width="8.8" height="4.3" fill="none" stroke="#111" stroke-width="1.25"/>
<text x="180.2" y="315.3" font-size="8.9" text-anchor="start" fill="#161616" stroke="#161616" stroke-width="0.18">HIF-1-KO</text>
<rect x="226.6" y="310.6" width="8.8" height="4.3" fill="#e8161b" stroke="#111" stroke-width="1.25"/>
<text x="240.2" y="315.3" font-size="8.9" text-anchor="start" fill="#161616" stroke="#161616" stroke-width="0.18">HIF-1-KO DMOG</text>
<line x1="40.5" y1="329" x2="40.5" y2="410" stroke="#111" stroke-width="1.0"/>
<line x1="37.5" y1="329.5" x2="40" y2="329.5" stroke="#111" stroke-width="1.0"/>
<text x="35.8" y="331.4" font-size="8.9" text-anchor="end" fill="#161616" stroke="#161616" stroke-width="0.18">100</text>
<line x1="37.5" y1="345.5" x2="40" y2="345.5" stroke="#111" stroke-width="1.0"/>
<text x="34.32" y="347.4" font-size="8.9" text-anchor="end" fill="#161616" stroke="#161616" stroke-width="0.18">80</text>
<line x1="37.5" y1="361.5" x2="40" y2="361.5" stroke="#111" stroke-width="1.0"/>
<text x="34.32" y="363.4" font-size="8.9" text-anchor="end" fill="#161616" stroke="#161616" stroke-width="0.18">60</text>
<line x1="37.5" y1="377.5" x2="40" y2="377.5" stroke="#111" stroke-width="1.0"/>
<text x="34.32" y="379.4" font-size="8.9" text-anchor="end" fill="#161616" stroke="#161616" stroke-width="0.18">40</text>
<line x1="37.5" y1="393.5" x2="40" y2="393.5" stroke="#111" stroke-width="1.0"/>
<text x="34.32" y="395.4" font-size="8.9" text-anchor="end" fill="#161616" stroke="#161616" stroke-width="0.18">20</text>
<line x1="37.5" y1="409.5" x2="40" y2="409.5" stroke="#111" stroke-width="1.0"/>
<text x="32.83" y="411.4" font-size="8.9" text-anchor="end" fill="#161616" stroke="#161616" stroke-width="0.18">0</text>
<line x1="48.5" y1="365" x2="48.5" y2="357" stroke="#111" stroke-width="1.0"/>
<line x1="46.714" y1="357.5" x2="50.286" y2="357.5" stroke="#111" stroke-width="1.0"/>
<rect x="45.5" y="365.5" width="7" height="44" fill="url(#cb)" stroke="#111" stroke-width="1.0"/>
<line x1="57.5" y1="349" x2="57.5" y2="339" stroke="#111" stroke-width="1.0"/>
<line x1="55.714" y1="339.5" x2="59.286" y2="339.5" stroke="#111" stroke-width="1.0"/>
<rect x="54.5" y="349.5" width="7" height="60" fill="#1b76bd" stroke="#111" stroke-width="1.0"/>
<line x1="67.5" y1="374" x2="67.5" y2="366" stroke="#111" stroke-width="1.0"/>
<line x1="65.9" y1="366.5" x2="69.1" y2="366.5" stroke="#111" stroke-width="1.0"/>
<rect x="64.5" y="374.5" width="6" height="35" fill="url(#cr)" stroke="#111" stroke-width="1.0"/>
<line x1="76.5" y1="374" x2="76.5" y2="367" stroke="#111" stroke-width="1.0"/>
<line x1="74.8315" y1="367.5" x2="78.1685" y2="367.5" stroke="#111" stroke-width="1.0"/>
<rect x="73.5" y="374.5" width="7" height="35" fill="#e8161b" stroke="#111" stroke-width="1.0"/>
<line x1="92.5" y1="377" x2="92.5" y2="372" stroke="#111" stroke-width="1.0"/>
<line x1="90.9" y1="372.5" x2="94.1" y2="372.5" stroke="#111" stroke-width="1.0"/>
<rect x="89.5" y="377.5" width="6" height="32" fill="url(#cb)" stroke="#111" stroke-width="1.0"/>
<line x1="101.5" y1="390" x2="101.5" y2="387" stroke="#111" stroke-width="1.0"/>
<line x1="99.9" y1="387.5" x2="103.1" y2="387.5" stroke="#111" stroke-width="1.0"/>
<rect x="99.5" y="390.5" width="5" height="19" fill="#1b76bd" stroke="#111" stroke-width="1.0"/>
<line x1="111.5" y1="377" x2="111.5" y2="372" stroke="#111" stroke-width="1.0"/>
<line x1="109.8785" y1="372.5" x2="113.1215" y2="372.5" stroke="#111" stroke-width="1.0"/>
<rect x="108.5" y="377.5" width="6" height="32" fill="url(#cr)" stroke="#111" stroke-width="1.0"/>
<line x1="120.5" y1="383" x2="120.5" y2="378" stroke="#111" stroke-width="1.0"/>
<line x1="118.8785" y1="378.5" x2="122.1215" y2="378.5" stroke="#111" stroke-width="1.0"/>
<rect x="117.5" y="383.5" width="6" height="26" fill="#e8161b" stroke="#111" stroke-width="1.0"/>
<line x1="40" y1="409.5" x2="128.5" y2="409.5" stroke="#111" stroke-width="1.0"/>
<line x1="62.5" y1="409" x2="62.5" y2="412.5" stroke="#111" stroke-width="1.0"/>
<line x1="106.5" y1="409" x2="106.5" y2="412.5" stroke="#111" stroke-width="1.0"/>
<line x1="93.4" y1="367.5" x2="102" y2="367.5" stroke="#111" stroke-width="1.0"/>
<text x="97.7" y="366.7" font-size="7.5" text-anchor="middle" fill="#161616" stroke="#161616" stroke-width="0.18">**</text>
<text x="67.1" y="418.5" font-size="8.9" text-anchor="end" fill="#161616" stroke="#161616" stroke-width="0.18" transform="rotate(-45 67.1 418.5)">MDP</text>
<text x="111.2" y="418.5" font-size="8.9" text-anchor="end" fill="#161616" stroke="#161616" stroke-width="0.18" transform="rotate(-45 111.2 418.5)">CDP</text>
<text x="18.9" y="370.5" font-size="8.9" text-anchor="middle" fill="#161616" stroke="#161616" stroke-width="0.18" transform="rotate(-90 18.9 370.5)">cells / 10<tspan font-size="4.6" dy="-5.8">4</tspan><tspan dy="5.8"> BM cells input</tspan></text>
<line x1="177.5" y1="329" x2="177.5" y2="410" stroke="#111" stroke-width="1.0"/>
<line x1="175.0" y1="329.5" x2="177.5" y2="329.5" stroke="#111" stroke-width="1.0"/>
<text x="173.1" y="331.4" font-size="8.9" text-anchor="end" fill="#161616" stroke="#161616" stroke-width="0.18">4000</text>
<line x1="175.0" y1="349.5" x2="177.5" y2="349.5" stroke="#111" stroke-width="1.0"/>
<text x="173.1" y="351.4" font-size="8.9" text-anchor="end" fill="#161616" stroke="#161616" stroke-width="0.18">3000</text>
<line x1="175.0" y1="369.5" x2="177.5" y2="369.5" stroke="#111" stroke-width="1.0"/>
<text x="173.1" y="371.4" font-size="8.9" text-anchor="end" fill="#161616" stroke="#161616" stroke-width="0.18">2000</text>
<line x1="175.0" y1="389.5" x2="177.5" y2="389.5" stroke="#111" stroke-width="1.0"/>
<text x="173.1" y="391.4" font-size="8.9" text-anchor="end" fill="#161616" stroke="#161616" stroke-width="0.18">1000</text>
<line x1="175.0" y1="409.5" x2="177.5" y2="409.5" stroke="#111" stroke-width="1.0"/>
<text x="173.1" y="411.4" font-size="8.9" text-anchor="end" fill="#161616" stroke="#161616" stroke-width="0.18">0</text>
<line x1="183.5" y1="346" x2="183.5" y2="337" stroke="#111" stroke-width="1.0"/>
<line x1="181.9" y1="337.5" x2="185.1" y2="337.5" stroke="#111" stroke-width="1.0"/>
<rect x="181.5" y="346.5" width="5" height="63" fill="url(#cb)" stroke="#111" stroke-width="1.0"/>
<line x1="191.5" y1="396" x2="191.5" y2="394" stroke="#111" stroke-width="1.0"/>
<line x1="189.9" y1="394.5" x2="193.1" y2="394.5" stroke="#111" stroke-width="1.0"/>
<rect x="189.5" y="396.5" width="5" height="13" fill="#1b76bd" stroke="#111" stroke-width="1.0"/>
<line x1="199.5" y1="356" x2="199.5" y2="352" stroke="#111" stroke-width="1.0"/>
<line x1="197.9" y1="352.5" x2="201.1" y2="352.5" stroke="#111" stroke-width="1.0"/>
<rect x="197.5" y="356.5" width="5" height="53" fill="url(#cr)" stroke="#111" stroke-width="1.0"/>
<line x1="207.5" y1="366" x2="207.5" y2="362" stroke="#111" stroke-width="1.0"/>
<line x1="205.9" y1="362.5" x2="209.1" y2="362.5" stroke="#111" stroke-width="1.0"/>
<rect x="205.5" y="366.5" width="5" height="43" fill="#e8161b" stroke="#111" stroke-width="1.0"/>
<line x1="220.5" y1="397" x2="220.5" y2="395" stroke="#111" stroke-width="1.0"/>
<line x1="218.9" y1="395.5" x2="222.1" y2="395.5" stroke="#111" stroke-width="1.0"/>
<rect x="218.5" y="397.5" width="5" height="12" fill="url(#cb)" stroke="#111" stroke-width="1.0"/>
<rect x="226.5" y="406.5" width="5" height="3" fill="#1b76bd" stroke="#111" stroke-width="1.0"/>
<line x1="236.5" y1="395" x2="236.5" y2="393" stroke="#111" stroke-width="1.0"/>
<line x1="234.9" y1="393.5" x2="238.1" y2="393.5" stroke="#111" stroke-width="1.0"/>
<rect x="234.5" y="395.5" width="5" height="14" fill="url(#cr)" stroke="#111" stroke-width="1.0"/>
<line x1="244.5" y1="403" x2="244.5" y2="401" stroke="#111" stroke-width="1.0"/>
<line x1="242.9" y1="401.5" x2="246.1" y2="401.5" stroke="#111" stroke-width="1.0"/>
<rect x="241.5" y="403.5" width="6" height="6" fill="#e8161b" stroke="#111" stroke-width="1.0"/>
<line x1="256.5" y1="394" x2="256.5" y2="391" stroke="#111" stroke-width="1.0"/>
<line x1="254.9" y1="391.5" x2="258.1" y2="391.5" stroke="#111" stroke-width="1.0"/>
<rect x="254.5" y="394.5" width="5" height="15" fill="url(#cb)" stroke="#111" stroke-width="1.0"/>
<rect x="261.5" y="404.5" width="5" height="5" fill="#1b76bd" stroke="#111" stroke-width="1.0"/>
<line x1="271.5" y1="390" x2="271.5" y2="388" stroke="#111" stroke-width="1.0"/>
<line x1="269.9" y1="388.5" x2="273.1" y2="388.5" stroke="#111" stroke-width="1.0"/>
<rect x="269.5" y="390.5" width="5" height="19" fill="url(#cr)" stroke="#111" stroke-width="1.0"/>
<line x1="279.5" y1="395" x2="279.5" y2="393" stroke="#111" stroke-width="1.0"/>
<line x1="277.9" y1="393.5" x2="281.1" y2="393.5" stroke="#111" stroke-width="1.0"/>
<rect x="277.5" y="395.5" width="5" height="14" fill="#e8161b" stroke="#111" stroke-width="1.0"/>
<line x1="292.5" y1="388" x2="292.5" y2="385" stroke="#111" stroke-width="1.0"/>
<line x1="290.9" y1="385.5" x2="294.1" y2="385.5" stroke="#111" stroke-width="1.0"/>
<rect x="289.5" y="388.5" width="6" height="21" fill="url(#cb)" stroke="#111" stroke-width="1.0"/>
<line x1="300.5" y1="400" x2="300.5" y2="399" stroke="#111" stroke-width="1.0"/>
<line x1="298.9" y1="399.5" x2="302.1" y2="399.5" stroke="#111" stroke-width="1.0"/>
<rect x="298.5" y="400.5" width="5" height="9" fill="#1b76bd" stroke="#111" stroke-width="1.0"/>
<line x1="307.5" y1="384" x2="307.5" y2="382" stroke="#111" stroke-width="1.0"/>
<line x1="305.9" y1="382.5" x2="309.1" y2="382.5" stroke="#111" stroke-width="1.0"/>
<rect x="305.5" y="384.5" width="5" height="25" fill="url(#cr)" stroke="#111" stroke-width="1.0"/>
<line x1="315.5" y1="387" x2="315.5" y2="385" stroke="#111" stroke-width="1.0"/>
<line x1="313.9" y1="385.5" x2="317.1" y2="385.5" stroke="#111" stroke-width="1.0"/>
<rect x="313.5" y="387.5" width="5" height="22" fill="#e8161b" stroke="#111" stroke-width="1.0"/>
<line x1="328.5" y1="377" x2="328.5" y2="373" stroke="#111" stroke-width="1.0"/>
<line x1="326.9" y1="373.5" x2="330.1" y2="373.5" stroke="#111" stroke-width="1.0"/>
<rect x="326.5" y="377.5" width="5" height="32" fill="url(#cb)" stroke="#111" stroke-width="1.0"/>
<line x1="336.5" y1="364" x2="336.5" y2="355" stroke="#111" stroke-width="1.0"/>
<line x1="334.9" y1="355.5" x2="338.1" y2="355.5" stroke="#111" stroke-width="1.0"/>
<rect x="334.5" y="364.5" width="5" height="45" fill="#1b76bd" stroke="#111" stroke-width="1.0"/>
<line x1="344.5" y1="379" x2="344.5" y2="373" stroke="#111" stroke-width="1.0"/>
<line x1="342.9" y1="373.5" x2="346.1" y2="373.5" stroke="#111" stroke-width="1.0"/>
<rect x="342.5" y="379.5" width="5" height="30" fill="url(#cr)" stroke="#111" stroke-width="1.0"/>
<line x1="351.5" y1="392" x2="351.5" y2="390" stroke="#111" stroke-width="1.0"/>
<line x1="349.9" y1="390.5" x2="353.1" y2="390.5" stroke="#111" stroke-width="1.0"/>
<rect x="349.5" y="392.5" width="5" height="17" fill="#e8161b" stroke="#111" stroke-width="1.0"/>
<line x1="177" y1="409.5" x2="358.5" y2="409.5" stroke="#111" stroke-width="1.0"/>
<line x1="196.5" y1="409" x2="196.5" y2="412.5" stroke="#111" stroke-width="1.0"/>
<line x1="232.5" y1="409" x2="232.5" y2="412.5" stroke="#111" stroke-width="1.0"/>
<line x1="268.5" y1="409" x2="268.5" y2="412.5" stroke="#111" stroke-width="1.0"/>
<line x1="304.5" y1="409" x2="304.5" y2="412.5" stroke="#111" stroke-width="1.0"/>
<line x1="340.5" y1="409" x2="340.5" y2="412.5" stroke="#111" stroke-width="1.0"/>
<line x1="183.8" y1="333.5" x2="193" y2="333.5" stroke="#111" stroke-width="1.0"/>
<text x="188.4" y="332.7" font-size="7.5" text-anchor="middle" fill="#161616" stroke="#161616" stroke-width="0.18">***</text>
<line x1="222.2" y1="393.5" x2="229" y2="393.5" stroke="#111" stroke-width="1.0"/>
<text x="225.6" y="392.7" font-size="7.5" text-anchor="middle" fill="#161616" stroke="#161616" stroke-width="0.18">**</text>
<line x1="237.9" y1="391.5" x2="244.8" y2="391.5" stroke="#111" stroke-width="1.0"/>
<text x="241.35000000000002" y="390.7" font-size="7.5" text-anchor="middle" fill="#161616" stroke="#161616" stroke-width="0.18">*</text>
<line x1="256.6" y1="387.5" x2="264.5" y2="387.5" stroke="#111" stroke-width="1.0"/>
<text x="260.55" y="386.7" font-size="7.5" text-anchor="middle" fill="#161616" stroke="#161616" stroke-width="0.18">**</text>
<line x1="293" y1="378.5" x2="300.8" y2="378.5" stroke="#111" stroke-width="1.0"/>
<text x="296.9" y="377.7" font-size="7.5" text-anchor="middle" fill="#161616" stroke="#161616" stroke-width="0.18">*</text>
<line x1="345.3" y1="369.5" x2="352.2" y2="369.5" stroke="#111" stroke-width="1.0"/>
<text x="348.75" y="368.7" font-size="7.5" text-anchor="middle" fill="#161616" stroke="#161616" stroke-width="0.18">**</text>
<text x="200.6" y="417.7" font-size="8.9" text-anchor="end" fill="#161616" stroke="#161616" stroke-width="0.18" transform="rotate(-45 200.6 417.7)">pDC</text>
<text x="237.4" y="417.7" font-size="8.9" text-anchor="end" fill="#161616" stroke="#161616" stroke-width="0.18" transform="rotate(-45 237.4 417.7)">pre-cDC</text>
<text x="272.8" y="417.7" font-size="8.9" text-anchor="end" fill="#161616" stroke="#161616" stroke-width="0.18" transform="rotate(-45 272.8 417.7)">CD24<tspan font-size="5" dy="-5.4">+</tspan><tspan dy="5.4"> cDC</tspan></text>
<text x="308.8" y="417.7" font-size="8.9" text-anchor="end" fill="#161616" stroke="#161616" stroke-width="0.18" transform="rotate(-45 308.8 417.7)">SIRP&#945;<tspan font-size="5" dy="-5.4">+</tspan><tspan dy="5.4"> cDC</tspan></text>
<text x="344.2" y="416.5" font-size="8.9" text-anchor="end" fill="#161616" stroke="#161616" stroke-width="0.18" transform="rotate(-45 344.2 416.5)">M&#966;</text>
<text x="150.5" y="370.2" font-size="8.9" text-anchor="middle" fill="#161616" stroke="#161616" stroke-width="0.18" transform="rotate(-90 150.5 370.2)">cells / 10<tspan font-size="4.6" dy="-5.8">4</tspan><tspan dy="5.8"> BM cells input</tspan></text>
<text transform="translate(368 309.0) scale(0.94 1)" font-size="13" font-weight="bold" fill="#000" stroke="#000" stroke-width="0.35">F</text>
<rect x="386.4" y="306.4" width="48.2" height="48.2" fill="none" stroke="#111" stroke-width="1.3"/>
<text x="379.4" y="330.5" font-size="8.9" text-anchor="middle" fill="#161616" stroke="#161616" stroke-width="0.18" transform="rotate(-90 379.4 330.5)">Counts</text>
<text x="410.3" y="370" font-size="8.9" text-anchor="middle" fill="#161616" font-weight="bold">HIF-1&#945;</text>
<line x1="436.8" y1="307.8" x2="449.4" y2="307.8" stroke="#b2484c" stroke-width="2.1"/>
<text x="453" y="310.3" font-size="8.9" text-anchor="start" fill="#161616" stroke="#161616" stroke-width="0.18">20% O<tspan font-size="4.6" dy="1.4">2</tspan><tspan dy="-1.4"> WT</tspan></text>
<line x1="436.8" y1="319.7" x2="449.4" y2="319.7" stroke="#2a5c9e" stroke-width="2.1"/>
<text x="453" y="322.2" font-size="8.9" text-anchor="start" fill="#161616" stroke="#161616" stroke-width="0.18">5% O<tspan font-size="4.6" dy="1.4">2</tspan><tspan dy="-1.4"> WT</tspan></text>
<line x1="436.8" y1="331.6" x2="449.4" y2="331.6" stroke="#e6a464" stroke-width="2.1"/>
<text x="453" y="334.1" font-size="8.9" text-anchor="start" fill="#161616" stroke="#161616" stroke-width="0.18">5% O<tspan font-size="4.6" dy="1.4">2</tspan><tspan dy="-1.4"> HIF-1-KO</tspan></text>
<path d="M389.8,358.2 l1.2,-0.8 m0.6,0 l0.8,-0.9" stroke="#b8b8b8" stroke-width="0.6" fill="none"/>
<path d="M395.2,358.2 l1.2,-0.8 m0.6,0 l0.8,-0.9" stroke="#b8b8b8" stroke-width="0.6" fill="none"/>
<path d="M406.6,358.2 l1.2,-0.8 m0.6,0 l0.8,-0.9" stroke="#b8b8b8" stroke-width="0.6" fill="none"/>
<path d="M417.0,358.2 l1.2,-0.8 m0.6,0 l0.8,-0.9" stroke="#b8b8b8" stroke-width="0.6" fill="none"/>
<path d="M427.5,358.2 l1.2,-0.8 m0.6,0 l0.8,-0.9" stroke="#b8b8b8" stroke-width="0.6" fill="none"/>
<rect x="386.4" y="375.4" width="48.2" height="48.2" fill="none" stroke="#111" stroke-width="1.3"/>
<text x="379.4" y="399.5" font-size="8.9" text-anchor="middle" fill="#161616" stroke="#161616" stroke-width="0.18" transform="rotate(-90 379.4 399.5)">Counts</text>
<text x="408.3" y="439" font-size="8.9" text-anchor="middle" fill="#161616" stroke="#161616" stroke-width="0.18">ID2</text>
<line x1="436.8" y1="376.8" x2="449.4" y2="376.8" stroke="#b2484c" stroke-width="2.1"/>
<text x="453" y="379.3" font-size="8.9" text-anchor="start" fill="#161616" stroke="#161616" stroke-width="0.18">20% O<tspan font-size="4.6" dy="1.4">2</tspan><tspan dy="-1.4"> WT</tspan></text>
<line x1="436.8" y1="388.7" x2="449.4" y2="388.7" stroke="#2a5c9e" stroke-width="2.1"/>
<text x="453" y="391.2" font-size="8.9" text-anchor="start" fill="#161616" stroke="#161616" stroke-width="0.18">5% O<tspan font-size="4.6" dy="1.4">2</tspan><tspan dy="-1.4"> WT</tspan></text>
<line x1="436.8" y1="400.6" x2="449.4" y2="400.6" stroke="#e6a464" stroke-width="2.1"/>
<text x="453" y="403.1" font-size="8.9" text-anchor="start" fill="#161616" stroke="#161616" stroke-width="0.18">5% O<tspan font-size="4.6" dy="1.4">2</tspan><tspan dy="-1.4"> HIF-1-KO</tspan></text>
<path d="M389.8,427.2 l1.2,-0.8 m0.6,0 l0.8,-0.9" stroke="#b8b8b8" stroke-width="0.6" fill="none"/>
<path d="M395.2,427.2 l1.2,-0.8 m0.6,0 l0.8,-0.9" stroke="#b8b8b8" stroke-width="0.6" fill="none"/>
<path d="M406.6,427.2 l1.2,-0.8 m0.6,0 l0.8,-0.9" stroke="#b8b8b8" stroke-width="0.6" fill="none"/>
<path d="M417.0,427.2 l1.2,-0.8 m0.6,0 l0.8,-0.9" stroke="#b8b8b8" stroke-width="0.6" fill="none"/>
<path d="M427.5,427.2 l1.2,-0.8 m0.6,0 l0.8,-0.9" stroke="#b8b8b8" stroke-width="0.6" fill="none"/>
<path d="M389.5,354.2 L390.8,335 L392.2,314 L393.2,318 L394,327.6 L394.9,343 L396.7,350.2 L399.5,354.2" fill="none" stroke="#d8383f" stroke-width="1.4" stroke-linejoin="round"/>
<path d="M390.4,354.2 L392.3,340 L393.6,329 L394.9,324 L396,322.5 L397.2,321.3 L398.5,325.8 L399.9,332 L401.3,340.2 L403.1,338.9 L404.4,341.1 L406.7,347.5 L410.3,352 L413.9,354.2" fill="none" stroke="#f0a04a" stroke-width="1.4" stroke-linejoin="round"/>
<path d="M391.3,354.2 L394.9,349.3 L398.5,333.9 L400.4,328.5 L402.5,323 L403.5,321.3 L405.3,325.8 L406.7,336.6 L408,350.2 L408.9,354.2" fill="none" stroke="#2a6fc4" stroke-width="1.4" stroke-linejoin="round"/>
<path d="M390.4,423.2 L393.1,415.6 L395.8,410.1 L397.6,402.9 L399,394.8 L400.4,389.4 L401.3,385.3 L403.1,386.2 L404,392.1 L405.3,397.5 L406.2,405.6 L407.1,414.7 L408.5,423.2" fill="none" stroke="#2a6fc4" stroke-width="1.4" stroke-linejoin="round"/>
<path d="M391.5,423.2 L394,405.6 L395.4,388.5 L397.2,389.4 L398.5,397.5 L400.4,403.8 L402.6,408.3 L404.4,408.8 L406.2,412.8 L409.4,417.4 L412.1,421 L413.9,423.2" fill="none" stroke="#f0a04a" stroke-width="1.4" stroke-linejoin="round"/>
<path d="M390,423.2 L391.8,410.1 L393.1,392.1 L394.5,388 L396.3,388.9 L397.6,399.3 L399.5,408.3 L400.8,412 L403.1,411 L405.8,412.8 L408.5,415.6 L411.2,417.4 L413,420.1 L414.8,423.2" fill="none" stroke="#d8383f" stroke-width="1.4" stroke-linejoin="round"/>
<text transform="translate(4 459.5) scale(0.94 1)" font-size="13" font-weight="bold" fill="#000" stroke="#000" stroke-width="0.35">G</text>
<rect x="24.6" y="464.6" width="8.8" height="4.3" fill="#d2f1ff"/>
<rect x="27.7" y="465.4" width="2.6" height="2.6" fill="#1a5682"/>
<rect x="24.6" y="464.6" width="8.8" height="4.3" fill="none" stroke="#111" stroke-width="1.25"/>
<text x="38.1" y="469.9" font-size="8.9" text-anchor="start" fill="#161616" stroke="#161616" stroke-width="0.18">WT 20%</text>
<rect x="24.6" y="473.6" width="8.8" height="4.3" fill="#1b76bd" stroke="#111" stroke-width="1.25"/>
<text x="38.1" y="478.9" font-size="8.9" text-anchor="start" fill="#161616" stroke="#161616" stroke-width="0.18">WT 5%</text>
<rect x="76.6" y="464.6" width="8.8" height="4.3" fill="#ffe9e9"/>
<rect x="79.7" y="465.4" width="2.6" height="2.6" fill="#a32027"/>
<rect x="76.6" y="464.6" width="8.8" height="4.3" fill="none" stroke="#111" stroke-width="1.25"/>
<text x="90.5" y="469.9" font-size="8.9" text-anchor="start" fill="#161616" stroke="#161616" stroke-width="0.18">HIF-1-KO 20%</text>
<rect x="76.6" y="473.6" width="8.8" height="4.3" fill="#e8161b" stroke="#111" stroke-width="1.25"/>
<text x="90.5" y="478.9" font-size="8.9" text-anchor="start" fill="#161616" stroke="#161616" stroke-width="0.18">HIF-1-KO 5%</text>
<line x1="42.5" y1="488" x2="42.5" y2="569" stroke="#111" stroke-width="1.0"/>
<line x1="39.5" y1="488.5" x2="42" y2="488.5" stroke="#111" stroke-width="1.0"/>
<text x="36.9" y="490.4" font-size="8.9" text-anchor="end" fill="#161616" stroke="#161616" stroke-width="0.18">2.5</text>
<line x1="39.5" y1="504.5" x2="42" y2="504.5" stroke="#111" stroke-width="1.0"/>
<text x="36.9" y="506.4" font-size="8.9" text-anchor="end" fill="#161616" stroke="#161616" stroke-width="0.18">2.0</text>
<line x1="39.5" y1="520.5" x2="42" y2="520.5" stroke="#111" stroke-width="1.0"/>
<text x="36.9" y="522.4" font-size="8.9" text-anchor="end" fill="#161616" stroke="#161616" stroke-width="0.18">1.5</text>
<line x1="39.5" y1="536.5" x2="42" y2="536.5" stroke="#111" stroke-width="1.0"/>
<text x="36.9" y="538.4" font-size="8.9" text-anchor="end" fill="#161616" stroke="#161616" stroke-width="0.18">1.0</text>
<line x1="39.5" y1="552.5" x2="42" y2="552.5" stroke="#111" stroke-width="1.0"/>
<text x="36.9" y="554.4" font-size="8.9" text-anchor="end" fill="#161616" stroke="#161616" stroke-width="0.18">0.5</text>
<line x1="39.5" y1="568.5" x2="42" y2="568.5" stroke="#111" stroke-width="1.0"/>
<text x="36.9" y="570.4" font-size="8.9" text-anchor="end" fill="#161616" stroke="#161616" stroke-width="0.18">0.0</text>
<line x1="52.5" y1="514" x2="52.5" y2="511" stroke="#111" stroke-width="1.0"/>
<line x1="48.7635" y1="511.5" x2="56.2365" y2="511.5" stroke="#111" stroke-width="1.0"/>
<rect x="45.5" y="514.5" width="15" height="54" fill="url(#cb)" stroke="#111" stroke-width="1.0"/>
<line x1="74.5" y1="531" x2="74.5" y2="528" stroke="#111" stroke-width="1.0"/>
<line x1="70.8105" y1="528.5" x2="78.1895" y2="528.5" stroke="#111" stroke-width="1.0"/>
<rect x="67.5" y="531.5" width="15" height="37" fill="#1b76bd" stroke="#111" stroke-width="1.0"/>
<line x1="96.5" y1="510" x2="96.5" y2="502" stroke="#111" stroke-width="1.0"/>
<line x1="92.834" y1="502.5" x2="100.166" y2="502.5" stroke="#111" stroke-width="1.0"/>
<rect x="89.5" y="510.5" width="15" height="58" fill="url(#cr)" stroke="#111" stroke-width="1.0"/>
<line x1="118.5" y1="514" x2="118.5" y2="511" stroke="#111" stroke-width="1.0"/>
<line x1="114.834" y1="511.5" x2="122.166" y2="511.5" stroke="#111" stroke-width="1.0"/>
<rect x="111.5" y="514.5" width="15" height="54" fill="#e8161b" stroke="#111" stroke-width="1.0"/>
<line x1="42" y1="568.5" x2="128" y2="568.5" stroke="#111" stroke-width="1.0"/>
<line x1="53.1" y1="506.5" x2="74.6" y2="506.5" stroke="#111" stroke-width="1.0"/>
<text x="63.849999999999994" y="503.9" font-size="7.5" text-anchor="middle" fill="#161616" stroke="#161616" stroke-width="0.18">*</text>
<text x="18.2" y="520.2" font-size="8.9" text-anchor="middle" fill="#161616" stroke="#161616" stroke-width="0.18" transform="rotate(-90 18.2 520.2)">CD11c<tspan font-size="5.5" dy="-5.4">+</tspan><tspan dy="5.4"> cells / cell input</tspan></text>
<text transform="translate(159.5 459.40000000000003) scale(0.94 1)" font-size="13" font-weight="bold" fill="#000" stroke="#000" stroke-width="0.35">H</text>
<rect x="215.6" y="461.6" width="8.8" height="4.3" fill="#d2f1ff"/>
<rect x="218.7" y="462.4" width="2.6" height="2.6" fill="#1a5682"/>
<rect x="215.6" y="461.6" width="8.8" height="4.3" fill="none" stroke="#111" stroke-width="1.25"/>
<text x="228.60000000000002" y="467.3" font-size="8.9" text-anchor="start" fill="#161616" stroke="#161616" stroke-width="0.18">WT 20%</text>
<rect x="274.6" y="461.6" width="8.8" height="4.3" fill="#1b76bd" stroke="#111" stroke-width="1.25"/>
<text x="287.6" y="467.3" font-size="8.9" text-anchor="start" fill="#161616" stroke="#161616" stroke-width="0.18">WT 5%</text>
<rect x="326.6" y="461.6" width="8.8" height="4.3" fill="#ffe9e9"/>
<rect x="329.7" y="462.4" width="2.6" height="2.6" fill="#a32027"/>
<rect x="326.6" y="461.6" width="8.8" height="4.3" fill="none" stroke="#111" stroke-width="1.25"/>
<text x="339.8" y="467.3" font-size="8.9" text-anchor="start" fill="#161616" stroke="#161616" stroke-width="0.18">ID2-KO 20%</text>
<rect x="395.6" y="461.6" width="8.8" height="4.3" fill="#e8161b" stroke="#111" stroke-width="1.25"/>
<text x="408.1" y="467.3" font-size="8.9" text-anchor="start" fill="#161616" stroke="#161616" stroke-width="0.18">ID2-KO 5%</text>
<line x1="196.5" y1="486" x2="196.5" y2="567" stroke="#111" stroke-width="1.0"/>
<line x1="193.5" y1="486.5" x2="196" y2="486.5" stroke="#111" stroke-width="1.0"/>
<text x="192.6" y="488.4" font-size="8.9" text-anchor="end" fill="#161616" stroke="#161616" stroke-width="0.18">150</text>
<line x1="193.5" y1="513.5" x2="196" y2="513.5" stroke="#111" stroke-width="1.0"/>
<text x="192.6" y="515.4" font-size="8.9" text-anchor="end" fill="#161616" stroke="#161616" stroke-width="0.18">100</text>
<line x1="193.5" y1="539.5" x2="196" y2="539.5" stroke="#111" stroke-width="1.0"/>
<text x="190.87" y="541.9" font-size="8.9" text-anchor="end" fill="#161616" stroke="#161616" stroke-width="0.18">50</text>
<line x1="193.5" y1="566.5" x2="196" y2="566.5" stroke="#111" stroke-width="1.0"/>
<text x="189.14" y="568.9" font-size="8.9" text-anchor="end" fill="#161616" stroke="#161616" stroke-width="0.18">0</text>
<line x1="203.5" y1="545" x2="203.5" y2="538" stroke="#111" stroke-width="1.0"/>
<line x1="201.855" y1="538.5" x2="205.145" y2="538.5" stroke="#111" stroke-width="1.0"/>
<rect x="200.5" y="545.5" width="7" height="21" fill="url(#cb)" stroke="#111" stroke-width="1.0"/>
<line x1="213.5" y1="549" x2="213.5" y2="541" stroke="#111" stroke-width="1.0"/>
<line x1="211.9" y1="541.5" x2="215.1" y2="541.5" stroke="#111" stroke-width="1.0"/>
<rect x="210.5" y="549.5" width="6" height="17" fill="#1b76bd" stroke="#111" stroke-width="1.0"/>
<line x1="222.5" y1="548" x2="222.5" y2="543" stroke="#111" stroke-width="1.0"/>
<line x1="220.9" y1="543.5" x2="224.1" y2="543.5" stroke="#111" stroke-width="1.0"/>
<rect x="220.5" y="548.5" width="5" height="18" fill="url(#cr)" stroke="#111" stroke-width="1.0"/>
<line x1="231.5" y1="550" x2="231.5" y2="546" stroke="#111" stroke-width="1.0"/>
<line x1="229.9" y1="546.5" x2="233.1" y2="546.5" stroke="#111" stroke-width="1.0"/>
<rect x="229.5" y="550.5" width="5" height="16" fill="#e8161b" stroke="#111" stroke-width="1.0"/>
<line x1="248.5" y1="523" x2="248.5" y2="512" stroke="#111" stroke-width="1.0"/>
<line x1="246.9" y1="512.5" x2="250.1" y2="512.5" stroke="#111" stroke-width="1.0"/>
<rect x="245.5" y="523.5" width="6" height="43" fill="url(#cb)" stroke="#111" stroke-width="1.0"/>
<line x1="257.5" y1="555" x2="257.5" y2="551" stroke="#111" stroke-width="1.0"/>
<line x1="255.8785" y1="551.5" x2="259.1215" y2="551.5" stroke="#111" stroke-width="1.0"/>
<rect x="254.5" y="555.5" width="6" height="11" fill="#1b76bd" stroke="#111" stroke-width="1.0"/>
<line x1="266.5" y1="556" x2="266.5" y2="552" stroke="#111" stroke-width="1.0"/>
<line x1="264.855" y1="552.5" x2="268.145" y2="552.5" stroke="#111" stroke-width="1.0"/>
<rect x="263.5" y="556.5" width="7" height="10" fill="url(#cr)" stroke="#111" stroke-width="1.0"/>
<line x1="276.5" y1="559" x2="276.5" y2="555" stroke="#111" stroke-width="1.0"/>
<line x1="274.9" y1="555.5" x2="278.1" y2="555.5" stroke="#111" stroke-width="1.0"/>
<rect x="273.5" y="559.5" width="6" height="7" fill="#e8161b" stroke="#111" stroke-width="1.0"/>
<line x1="196" y1="566.5" x2="283" y2="566.5" stroke="#111" stroke-width="1.0"/>
<line x1="218.5" y1="566" x2="218.5" y2="569.5" stroke="#111" stroke-width="1.0"/>
<line x1="262.5" y1="566" x2="262.5" y2="569.5" stroke="#111" stroke-width="1.0"/>
<line x1="248.9" y1="498.5" x2="266.7" y2="498.5" stroke="#111" stroke-width="1.0"/>
<text x="257.8" y="497.3" font-size="7.5" text-anchor="middle" fill="#161616" stroke="#161616" stroke-width="0.18">*</text>
<line x1="249.3" y1="506.5" x2="257.5" y2="506.5" stroke="#111" stroke-width="1.0"/>
<text x="253.4" y="505.3" font-size="7.5" text-anchor="middle" fill="#161616" stroke="#161616" stroke-width="0.18">*</text>
<text x="222.6" y="575.2" font-size="8.9" text-anchor="end" fill="#161616" stroke="#161616" stroke-width="0.18" transform="rotate(-45 222.6 575.2)">MDP</text>
<text x="266.9" y="575.2" font-size="8.9" text-anchor="end" fill="#161616" stroke="#161616" stroke-width="0.18" transform="rotate(-45 266.9 575.2)">CDP</text>
<text x="173.3" y="522" font-size="8.9" text-anchor="middle" fill="#161616" stroke="#161616" stroke-width="0.18" transform="rotate(-90 173.3 522)">cells / 10<tspan font-size="4.6" dy="-5.8">4</tspan><tspan dy="5.8"> BM cells input</tspan></text>
<line x1="328.5" y1="486" x2="328.5" y2="568" stroke="#111" stroke-width="1.0"/>
<line x1="326.0" y1="486.5" x2="328.5" y2="486.5" stroke="#111" stroke-width="1.0"/>
<text x="325.1" y="488.9" font-size="8.9" text-anchor="end" fill="#161616" stroke="#161616" stroke-width="0.18">5000</text>
<line x1="326.0" y1="502.5" x2="328.5" y2="502.5" stroke="#111" stroke-width="1.0"/>
<text x="325.1" y="505.0" font-size="8.9" text-anchor="end" fill="#161616" stroke="#161616" stroke-width="0.18">4000</text>
<line x1="326.0" y1="518.5" x2="328.5" y2="518.5" stroke="#111" stroke-width="1.0"/>
<text x="325.1" y="521.0" font-size="8.9" text-anchor="end" fill="#161616" stroke="#161616" stroke-width="0.18">3000</text>
<line x1="326.0" y1="534.5" x2="328.5" y2="534.5" stroke="#111" stroke-width="1.0"/>
<text x="325.1" y="537.1" font-size="8.9" text-anchor="end" fill="#161616" stroke="#161616" stroke-width="0.18">2000</text>
<line x1="326.0" y1="550.5" x2="328.5" y2="550.5" stroke="#111" stroke-width="1.0"/>
<text x="325.1" y="553.2" font-size="8.9" text-anchor="end" fill="#161616" stroke="#161616" stroke-width="0.18">1000</text>
<line x1="326.0" y1="567.5" x2="328.5" y2="567.5" stroke="#111" stroke-width="1.0"/>
<text x="325.1" y="569.4" font-size="8.9" text-anchor="end" fill="#161616" stroke="#161616" stroke-width="0.18">0</text>
<line x1="337.5" y1="518" x2="337.5" y2="507" stroke="#111" stroke-width="1.0"/>
<line x1="335.9" y1="507.5" x2="339.1" y2="507.5" stroke="#111" stroke-width="1.0"/>
<rect x="334.5" y="518.5" width="6" height="49" fill="url(#cb)" stroke="#111" stroke-width="1.0"/>
<line x1="344.5" y1="553" x2="344.5" y2="550" stroke="#111" stroke-width="1.0"/>
<line x1="342.9" y1="550.5" x2="346.1" y2="550.5" stroke="#111" stroke-width="1.0"/>
<rect x="342.5" y="553.5" width="5" height="14" fill="#1b76bd" stroke="#111" stroke-width="1.0"/>
<line x1="352.5" y1="505" x2="352.5" y2="496" stroke="#111" stroke-width="1.0"/>
<line x1="350.9" y1="496.5" x2="354.1" y2="496.5" stroke="#111" stroke-width="1.0"/>
<rect x="350.5" y="505.5" width="5" height="62" fill="url(#cr)" stroke="#111" stroke-width="1.0"/>
<line x1="360.5" y1="522" x2="360.5" y2="518" stroke="#111" stroke-width="1.0"/>
<line x1="358.9" y1="518.5" x2="362.1" y2="518.5" stroke="#111" stroke-width="1.0"/>
<rect x="357.5" y="522.5" width="6" height="45" fill="#e8161b" stroke="#111" stroke-width="1.0"/>
<line x1="371.5" y1="554" x2="371.5" y2="552" stroke="#111" stroke-width="1.0"/>
<line x1="369.9" y1="552.5" x2="373.1" y2="552.5" stroke="#111" stroke-width="1.0"/>
<rect x="369.5" y="554.5" width="5" height="13" fill="url(#cb)" stroke="#111" stroke-width="1.0"/>
<line x1="379.5" y1="562" x2="379.5" y2="561" stroke="#111" stroke-width="1.0"/>
<line x1="377.9" y1="561.5" x2="381.1" y2="561.5" stroke="#111" stroke-width="1.0"/>
<rect x="377.5" y="562.5" width="5" height="5" fill="#1b76bd" stroke="#111" stroke-width="1.0"/>
<line x1="387.5" y1="561" x2="387.5" y2="558" stroke="#111" stroke-width="1.0"/>
<line x1="385.9" y1="558.5" x2="389.1" y2="558.5" stroke="#111" stroke-width="1.0"/>
<rect x="385.5" y="561.5" width="5" height="6" fill="url(#cr)" stroke="#111" stroke-width="1.0"/>
<line x1="395.5" y1="563" x2="395.5" y2="562" stroke="#111" stroke-width="1.0"/>
<line x1="393.9" y1="562.5" x2="397.1" y2="562.5" stroke="#111" stroke-width="1.0"/>
<rect x="393.5" y="563.5" width="4" height="4" fill="#e8161b" stroke="#111" stroke-width="1.0"/>
<line x1="407.5" y1="555" x2="407.5" y2="552" stroke="#111" stroke-width="1.0"/>
<line x1="405.9" y1="552.5" x2="409.1" y2="552.5" stroke="#111" stroke-width="1.0"/>
<rect x="405.5" y="555.5" width="5" height="12" fill="url(#cb)" stroke="#111" stroke-width="1.0"/>
<line x1="415.5" y1="562" x2="415.5" y2="561" stroke="#111" stroke-width="1.0"/>
<line x1="413.9" y1="561.5" x2="417.1" y2="561.5" stroke="#111" stroke-width="1.0"/>
<rect x="413.5" y="562.5" width="4" height="5" fill="#1b76bd" stroke="#111" stroke-width="1.0"/>
<rect x="420.5" y="564.5" width="5" height="3" fill="url(#cr)" stroke="#111" stroke-width="1.0"/>
<rect x="428.5" y="565.5" width="5" height="2" fill="#e8161b" stroke="#111" stroke-width="1.0"/>
<line x1="444.5" y1="556" x2="444.5" y2="554" stroke="#111" stroke-width="1.0"/>
<line x1="442.9" y1="554.5" x2="446.1" y2="554.5" stroke="#111" stroke-width="1.0"/>
<rect x="441.5" y="556.5" width="6" height="11" fill="url(#cb)" stroke="#111" stroke-width="1.0"/>
<line x1="451.5" y1="559" x2="451.5" y2="557" stroke="#111" stroke-width="1.0"/>
<line x1="449.9" y1="557.5" x2="453.1" y2="557.5" stroke="#111" stroke-width="1.0"/>
<rect x="449.5" y="559.5" width="5" height="8" fill="#1b76bd" stroke="#111" stroke-width="1.0"/>
<line x1="459.5" y1="561" x2="459.5" y2="560" stroke="#111" stroke-width="1.0"/>
<line x1="457.9" y1="560.5" x2="461.1" y2="560.5" stroke="#111" stroke-width="1.0"/>
<rect x="457.5" y="561.5" width="5" height="6" fill="url(#cr)" stroke="#111" stroke-width="1.0"/>
<line x1="467.5" y1="562" x2="467.5" y2="561" stroke="#111" stroke-width="1.0"/>
<line x1="465.9" y1="561.5" x2="469.1" y2="561.5" stroke="#111" stroke-width="1.0"/>
<rect x="464.5" y="562.5" width="6" height="5" fill="#e8161b" stroke="#111" stroke-width="1.0"/>
<line x1="480.5" y1="530" x2="480.5" y2="524" stroke="#111" stroke-width="1.0"/>
<line x1="478.9" y1="524.5" x2="482.1" y2="524.5" stroke="#111" stroke-width="1.0"/>
<rect x="478.5" y="530.5" width="5" height="37" fill="url(#cb)" stroke="#111" stroke-width="1.0"/>
<line x1="488.5" y1="523" x2="488.5" y2="516" stroke="#111" stroke-width="1.0"/>
<line x1="486.9" y1="516.5" x2="490.1" y2="516.5" stroke="#111" stroke-width="1.0"/>
<rect x="486.5" y="523.5" width="5" height="44" fill="#1b76bd" stroke="#111" stroke-width="1.0"/>
<line x1="495.5" y1="532" x2="495.5" y2="522" stroke="#111" stroke-width="1.0"/>
<line x1="493.9" y1="522.5" x2="497.1" y2="522.5" stroke="#111" stroke-width="1.0"/>
<rect x="493.5" y="532.5" width="5" height="35" fill="url(#cr)" stroke="#111" stroke-width="1.0"/>
<line x1="503.5" y1="552" x2="503.5" y2="550" stroke="#111" stroke-width="1.0"/>
<line x1="501.9" y1="550.5" x2="505.1" y2="550.5" stroke="#111" stroke-width="1.0"/>
<rect x="501.5" y="552.5" width="5" height="15" fill="#e8161b" stroke="#111" stroke-width="1.0"/>
<line x1="328" y1="567.5" x2="510" y2="567.5" stroke="#111" stroke-width="1.0"/>
<line x1="349.5" y1="567" x2="349.5" y2="570.5" stroke="#111" stroke-width="1.0"/>
<line x1="384.5" y1="567" x2="384.5" y2="570.5" stroke="#111" stroke-width="1.0"/>
<line x1="419.5" y1="567" x2="419.5" y2="570.5" stroke="#111" stroke-width="1.0"/>
<line x1="456.5" y1="567" x2="456.5" y2="570.5" stroke="#111" stroke-width="1.0"/>
<line x1="492.5" y1="567" x2="492.5" y2="570.5" stroke="#111" stroke-width="1.0"/>
<line x1="337.1" y1="502.5" x2="346.2" y2="502.5" stroke="#111" stroke-width="1.0"/>
<text x="341.65" y="501.7" font-size="7.5" text-anchor="middle" fill="#161616" stroke="#161616" stroke-width="0.18">*</text>
<line x1="372.8" y1="540.5" x2="388.6" y2="540.5" stroke="#111" stroke-width="1.0"/>
<text x="380.70000000000005" y="539.7" font-size="7.5" text-anchor="middle" fill="#161616" stroke="#161616" stroke-width="0.18">*</text>
<line x1="372.8" y1="548.5" x2="381" y2="548.5" stroke="#111" stroke-width="1.0"/>
<text x="376.9" y="547.7" font-size="7.5" text-anchor="middle" fill="#161616" stroke="#161616" stroke-width="0.18">*</text>
<line x1="407.5" y1="541.5" x2="422.8" y2="541.5" stroke="#111" stroke-width="1.0"/>
<text x="415.15" y="540.7" font-size="7.5" text-anchor="middle" fill="#161616" stroke="#161616" stroke-width="0.18">*</text>
<line x1="407.5" y1="549.5" x2="415.8" y2="549.5" stroke="#111" stroke-width="1.0"/>
<text x="411.65" y="548.7" font-size="7.5" text-anchor="middle" fill="#161616" stroke="#161616" stroke-width="0.18">*</text>
<text x="353.6" y="575.7" font-size="8.9" text-anchor="end" fill="#161616" stroke="#161616" stroke-width="0.18" transform="rotate(-45 353.6 575.7)">pDC</text>
<text x="388.6" y="575.7" font-size="8.9" text-anchor="end" fill="#161616" stroke="#161616" stroke-width="0.18" transform="rotate(-45 388.6 575.7)">pre-cDC</text>
<text x="424.1" y="575.7" font-size="8.9" text-anchor="end" fill="#161616" stroke="#161616" stroke-width="0.18" transform="rotate(-45 424.1 575.7)">CD24<tspan font-size="5" dy="-5.4">+</tspan><tspan dy="5.4"> cDC</tspan></text>
<text x="460.6" y="575.7" font-size="8.9" text-anchor="end" fill="#161616" stroke="#161616" stroke-width="0.18" transform="rotate(-45 460.6 575.7)">SIRP&#945;<tspan font-size="5" dy="-5.4">+</tspan><tspan dy="5.4"> cDC</tspan></text>
<text x="496.1" y="574.5" font-size="8.9" text-anchor="end" fill="#161616" stroke="#161616" stroke-width="0.18" transform="rotate(-45 496.1 574.5)">M&#966;</text>
<text x="301.5" y="526" font-size="8.9" text-anchor="middle" fill="#161616" stroke="#161616" stroke-width="0.18" transform="rotate(-90 301.5 526)">cells / 10<tspan font-size="4.6" dy="-5.8">4</tspan><tspan dy="5.8"> BM cells input</tspan></text>
</svg></body></html>
